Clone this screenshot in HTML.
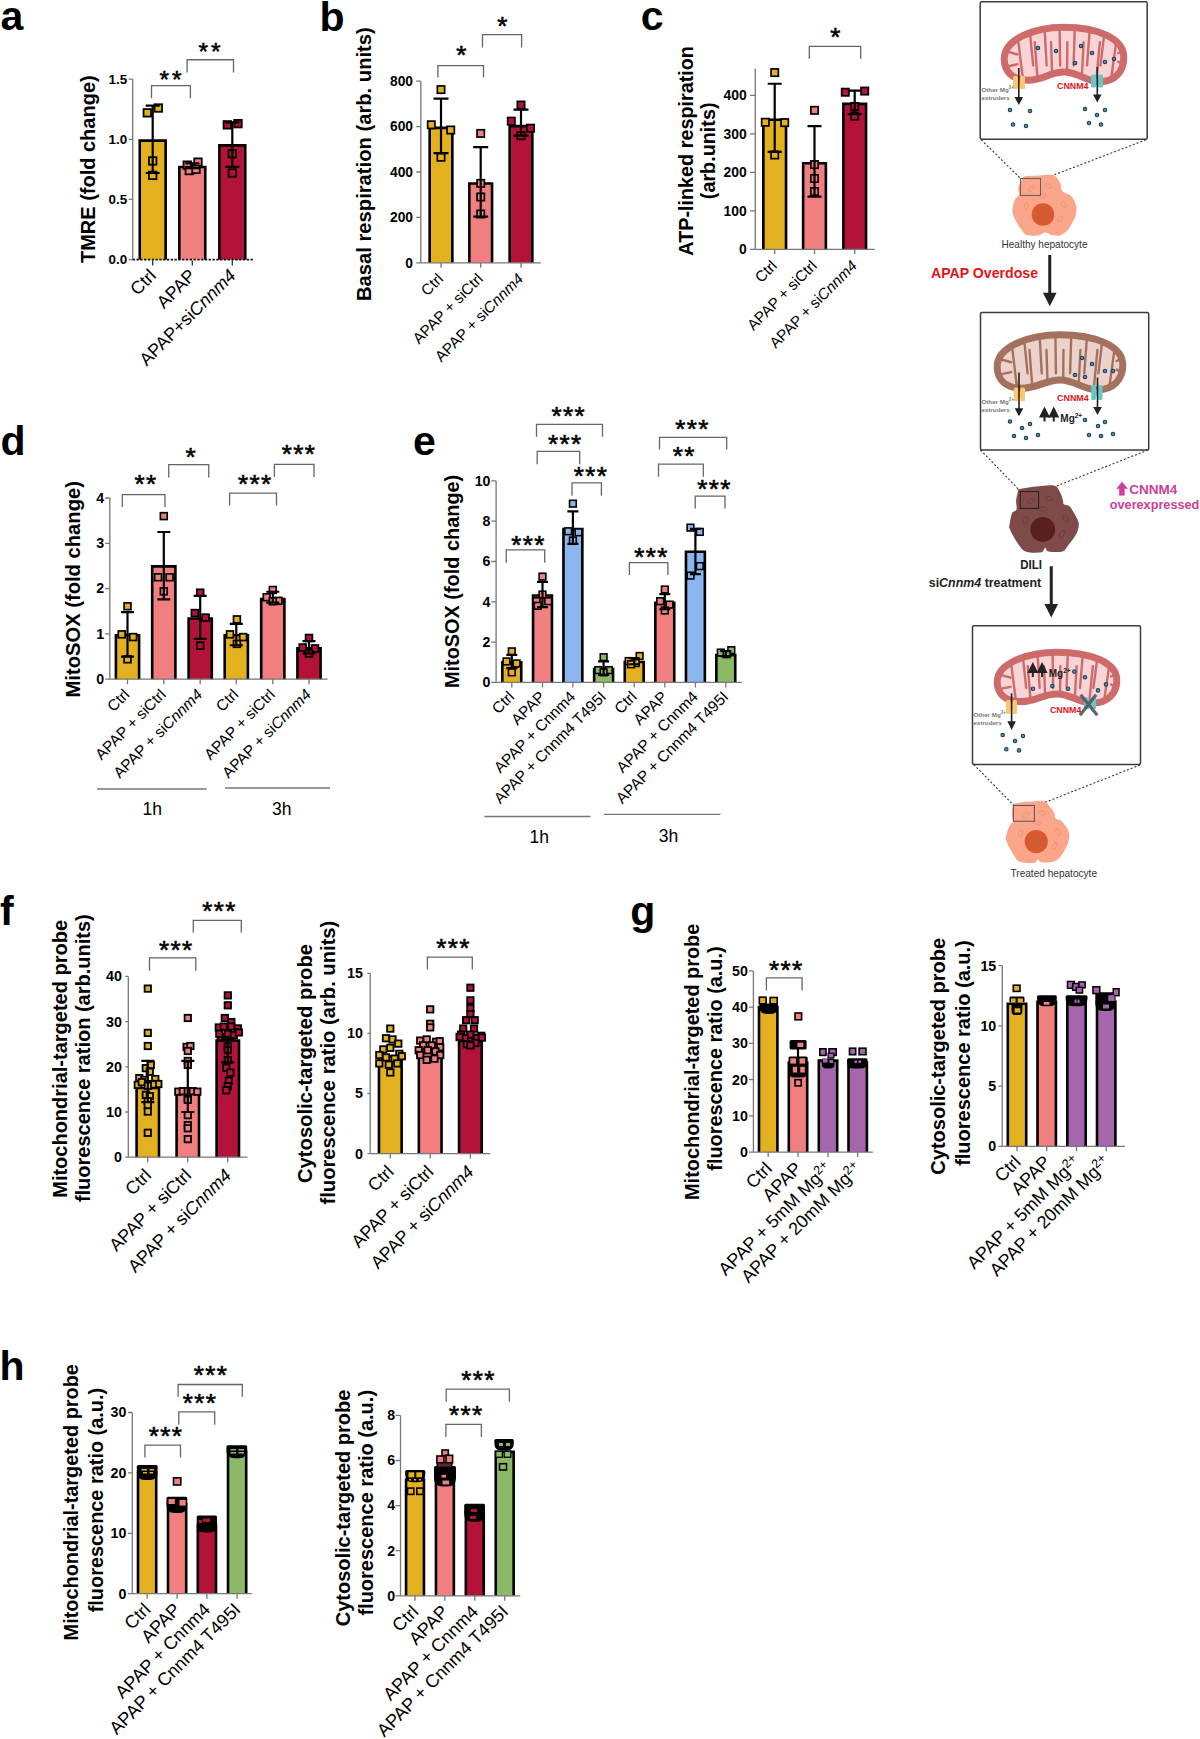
<!DOCTYPE html>
<html><head><meta charset="utf-8"><style>
html,body{margin:0;padding:0;background:#fff;}
svg{display:block;}
</style></head><body>
<svg width="1200" height="1739" viewBox="0 0 1200 1739" style="font-family:'Liberation Sans',sans-serif">
<rect x="139.75" y="140.6" width="25.9" height="119" fill="#E3B01F"/>
<path d="M139.75 259.6V140.6H165.65V259.6" fill="none" stroke="#000" stroke-width="2.6" stroke-linejoin="miter"/>
<rect x="179.35" y="167.07" width="25.9" height="92.53" fill="#F27F80"/>
<path d="M179.35 259.6V167.07H205.25V259.6" fill="none" stroke="#000" stroke-width="2.6" stroke-linejoin="miter"/>
<rect x="219.35" y="145.41" width="25.9" height="114.19" fill="#B31338"/>
<path d="M219.35 259.6V145.41H245.25V259.6" fill="none" stroke="#000" stroke-width="2.6" stroke-linejoin="miter"/>
<rect x="143.55" y="109.08" width="7.5" height="7.5" fill="#E3B01F" stroke="#000" stroke-width="1.8"/>
<rect x="154.55" y="104.27" width="7.5" height="7.5" fill="#E3B01F" stroke="#000" stroke-width="1.8"/>
<rect x="148.95" y="157.2" width="7.5" height="7.5" fill="#E3B01F" stroke="#000" stroke-width="1.8"/>
<rect x="148.95" y="171.64" width="7.5" height="7.5" fill="#E3B01F" stroke="#000" stroke-width="1.8"/>
<rect x="183.55" y="161.41" width="7.5" height="7.5" fill="#F27F80" stroke="#000" stroke-width="1.8"/>
<rect x="194.25" y="158.41" width="7.5" height="7.5" fill="#F27F80" stroke="#000" stroke-width="1.8"/>
<rect x="185.55" y="166.83" width="7.5" height="7.5" fill="#F27F80" stroke="#000" stroke-width="1.8"/>
<rect x="192.25" y="165.63" width="7.5" height="7.5" fill="#F27F80" stroke="#000" stroke-width="1.8"/>
<rect x="223.55" y="121.11" width="7.5" height="7.5" fill="#B31338" stroke="#000" stroke-width="1.8"/>
<rect x="234.25" y="119.91" width="7.5" height="7.5" fill="#B31338" stroke="#000" stroke-width="1.8"/>
<rect x="228.55" y="149.99" width="7.5" height="7.5" fill="#B31338" stroke="#000" stroke-width="1.8"/>
<rect x="228.55" y="169.23" width="7.5" height="7.5" fill="#B31338" stroke="#000" stroke-width="1.8"/>
<path d="M152.7 105.62V172.98M145.7 105.62H159.7M145.7 172.98H159.7" stroke="#000" stroke-width="2.2" fill="none"/>
<path d="M192.3 163.36V168.17M185.3 163.36H199.3M185.3 168.17H199.3" stroke="#000" stroke-width="2.2" fill="none"/>
<path d="M232.3 122.46V166.97M225.3 122.46H239.3M225.3 166.97H239.3" stroke="#000" stroke-width="2.2" fill="none"/>
<path d="M132.7 79.15V259.6M128.7 259.6H132.7M128.7 199.45H132.7M128.7 139.3H132.7M128.7 79.15H132.7" stroke="#777" stroke-width="1.3" fill="none"/>
<path d="M132.7 259.6H253" stroke="#111" stroke-width="1.6" stroke-dasharray="2.3 1.5" fill="none"/>
<path d="M152.7 260.4v5M192.3 260.4v5M232.3 260.4v5" stroke="#222" stroke-width="1.2"/>
<text x="127.1" y="264.21" font-size="13.4" font-weight="bold" text-anchor="end">0.0</text>
<text x="127.1" y="204.06" font-size="13.4" font-weight="bold" text-anchor="end">0.5</text>
<text x="127.1" y="143.91" font-size="13.4" font-weight="bold" text-anchor="end">1.0</text>
<text x="127.1" y="83.76" font-size="13.4" font-weight="bold" text-anchor="end">1.5</text>
<path d="M151.5 98.3V85.7H190.4V98.3" stroke="#666" stroke-width="1.3" fill="none"/>
<text x="159.62" y="87.56" font-size="24.5" stroke="#000" stroke-width="0.6" stroke-linejoin="round" letter-spacing="2.9">**</text>
<path d="M187.1 72.5V59.75H233.5V72.5" stroke="#666" stroke-width="1.3" fill="none"/>
<text x="198.52" y="60.26" font-size="24.5" stroke="#000" stroke-width="0.6" stroke-linejoin="round" letter-spacing="2.9">**</text>
<text x="157.2" y="276.6" font-size="17.9" text-anchor="end" transform="rotate(-45 157.2 276.6)">Ctrl</text>
<text x="196.8" y="276.6" font-size="17.9" text-anchor="end" transform="rotate(-45 196.8 276.6)">APAP</text>
<text x="236.8" y="276.6" font-size="17.9" text-anchor="end" transform="rotate(-45 236.8 276.6)">APAP+si<tspan font-style="italic">Cnnm4</tspan></text>
<text x="95" y="169.2" font-size="20" font-weight="bold" text-anchor="middle" transform="rotate(-90 95 169.2)">TMRE (fold change)</text>
<rect x="429.65" y="127.9" width="22.7" height="134.9" fill="#E3B01F"/>
<path d="M429.65 262.8V127.9H452.35V262.8" fill="none" stroke="#000" stroke-width="2.6" stroke-linejoin="miter"/>
<rect x="469.35" y="183.52" width="22.7" height="79.28" fill="#F27F80"/>
<path d="M469.35 262.8V183.52H492.05V262.8" fill="none" stroke="#000" stroke-width="2.6" stroke-linejoin="miter"/>
<rect x="509.65" y="126.08" width="22.7" height="136.72" fill="#B31338"/>
<path d="M509.65 262.8V126.08H532.35V262.8" fill="none" stroke="#000" stroke-width="2.6" stroke-linejoin="miter"/>
<rect x="437.35" y="85.95" width="7.3" height="7.3" fill="#E3B01F" stroke="#000" stroke-width="1.7"/>
<rect x="427.65" y="121.13" width="7.3" height="7.3" fill="#E3B01F" stroke="#000" stroke-width="1.7"/>
<rect x="447.05" y="126.36" width="7.3" height="7.3" fill="#E3B01F" stroke="#000" stroke-width="1.7"/>
<rect x="437.35" y="153.59" width="7.3" height="7.3" fill="#E3B01F" stroke="#000" stroke-width="1.7"/>
<rect x="477.05" y="129.76" width="7.3" height="7.3" fill="#F27F80" stroke="#000" stroke-width="1.7"/>
<rect x="477.05" y="179.7" width="7.3" height="7.3" fill="#F27F80" stroke="#000" stroke-width="1.7"/>
<rect x="477.05" y="193.32" width="7.3" height="7.3" fill="#F27F80" stroke="#000" stroke-width="1.7"/>
<rect x="477.05" y="210.34" width="7.3" height="7.3" fill="#F27F80" stroke="#000" stroke-width="1.7"/>
<rect x="517.35" y="101.39" width="7.3" height="7.3" fill="#B31338" stroke="#000" stroke-width="1.7"/>
<rect x="507.65" y="117.5" width="7.3" height="7.3" fill="#B31338" stroke="#000" stroke-width="1.7"/>
<rect x="526.85" y="124.54" width="7.3" height="7.3" fill="#B31338" stroke="#000" stroke-width="1.7"/>
<rect x="517.35" y="132.03" width="7.3" height="7.3" fill="#B31338" stroke="#000" stroke-width="1.7"/>
<path d="M441 98.68V153.16M433.5 98.68H448.5M433.5 153.16H448.5" stroke="#000" stroke-width="2.2" fill="none"/>
<path d="M480.7 147.03V216.72M473.2 147.03H488.2M473.2 216.72H488.2" stroke="#000" stroke-width="2.2" fill="none"/>
<path d="M521 109.58V135.68M513.5 109.58H528.5M513.5 135.68H528.5" stroke="#000" stroke-width="2.2" fill="none"/>
<path d="M420.8 81.2V262.8M416.3 262.8H420.8M416.3 217.4H420.8M416.3 172H420.8M416.3 126.6H420.8M416.3 81.2H420.8" stroke="#777" stroke-width="1.3" fill="none"/>
<path d="M420.8 262.8H540.8M441 262.8v5M480.7 262.8v5M521 262.8v5" stroke="#777" stroke-width="1.3" fill="none"/>
<text x="413" y="267.55" font-size="13.8" font-weight="bold" text-anchor="end">0</text>
<text x="413" y="222.15" font-size="13.8" font-weight="bold" text-anchor="end">200</text>
<text x="413" y="176.75" font-size="13.8" font-weight="bold" text-anchor="end">400</text>
<text x="413" y="131.35" font-size="13.8" font-weight="bold" text-anchor="end">600</text>
<text x="413" y="85.95" font-size="13.8" font-weight="bold" text-anchor="end">800</text>
<path d="M437.9 77.6V65.6H483.5V77.6" stroke="#666" stroke-width="1.3" fill="none"/>
<text x="456.19" y="64.46" font-size="26" stroke="#000" stroke-width="0.6" stroke-linejoin="round" letter-spacing="1.4">*</text>
<path d="M482.5 47.6V34.7H521.6V47.6" stroke="#666" stroke-width="1.3" fill="none"/>
<text x="497.14" y="35.46" font-size="26" stroke="#000" stroke-width="0.6" stroke-linejoin="round" letter-spacing="1.4">*</text>
<text x="444.2" y="279.8" font-size="15.3" text-anchor="end" transform="rotate(-45 444.2 279.8)">Ctrl</text>
<text x="483.9" y="279.8" font-size="15.3" text-anchor="end" transform="rotate(-45 483.9 279.8)">APAP + siCtrl</text>
<text x="524.2" y="279.8" font-size="15.3" text-anchor="end" transform="rotate(-45 524.2 279.8)">APAP + si<tspan font-style="italic">Cnnm4</tspan></text>
<text x="371.2" y="164.1" font-size="20.2" font-weight="bold" text-anchor="middle" transform="rotate(-90 371.2 164.1)">Basal respiration (arb. units)</text>
<rect x="763.35" y="119.7" width="22.7" height="129.6" fill="#E3B01F"/>
<path d="M763.35 249.3V119.7H786.05V249.3" fill="none" stroke="#000" stroke-width="2.6" stroke-linejoin="miter"/>
<rect x="803.15" y="163.21" width="22.7" height="86.09" fill="#F27F80"/>
<path d="M803.15 249.3V163.21H825.85V249.3" fill="none" stroke="#000" stroke-width="2.6" stroke-linejoin="miter"/>
<rect x="843.35" y="103.92" width="22.7" height="145.38" fill="#B31338"/>
<path d="M843.35 249.3V103.92H866.05V249.3" fill="none" stroke="#000" stroke-width="2.6" stroke-linejoin="miter"/>
<rect x="771.05" y="68.94" width="7.3" height="7.3" fill="#E3B01F" stroke="#000" stroke-width="1.7"/>
<rect x="761.65" y="118.6" width="7.3" height="7.3" fill="#E3B01F" stroke="#000" stroke-width="1.7"/>
<rect x="781.05" y="118.98" width="7.3" height="7.3" fill="#E3B01F" stroke="#000" stroke-width="1.7"/>
<rect x="771.05" y="151.33" width="7.3" height="7.3" fill="#E3B01F" stroke="#000" stroke-width="1.7"/>
<rect x="810.85" y="106.66" width="7.3" height="7.3" fill="#F27F80" stroke="#000" stroke-width="1.7"/>
<rect x="810.85" y="160.95" width="7.3" height="7.3" fill="#F27F80" stroke="#000" stroke-width="1.7"/>
<rect x="810.85" y="174.81" width="7.3" height="7.3" fill="#F27F80" stroke="#000" stroke-width="1.7"/>
<rect x="810.85" y="187.9" width="7.3" height="7.3" fill="#F27F80" stroke="#000" stroke-width="1.7"/>
<rect x="841.65" y="88.57" width="7.3" height="7.3" fill="#B31338" stroke="#000" stroke-width="1.7"/>
<rect x="861.05" y="87.41" width="7.3" height="7.3" fill="#B31338" stroke="#000" stroke-width="1.7"/>
<rect x="851.05" y="102.81" width="7.3" height="7.3" fill="#B31338" stroke="#000" stroke-width="1.7"/>
<rect x="851.05" y="112.44" width="7.3" height="7.3" fill="#B31338" stroke="#000" stroke-width="1.7"/>
<path d="M774.7 83.75V151.9M767.7 83.75H781.7M767.7 151.9H781.7" stroke="#000" stroke-width="2.2" fill="none"/>
<path d="M814.5 126.1V196.56M807.5 126.1H821.5M807.5 196.56H821.5" stroke="#000" stroke-width="2.2" fill="none"/>
<path d="M854.7 90.68V114.17M847.7 90.68H861.7M847.7 114.17H861.7" stroke="#000" stroke-width="2.2" fill="none"/>
<path d="M755.3 68.7V249.3M750 249.3H755.3M750 210.8H755.3M750 172.3H755.3M750 133.8H755.3M750 95.3H755.3" stroke="#777" stroke-width="1.3" fill="none"/>
<path d="M755.3 249.3H874.7M774.7 249.3v5M814.5 249.3v5M854.7 249.3v5" stroke="#777" stroke-width="1.3" fill="none"/>
<text x="746.7" y="254.08" font-size="13.9" font-weight="bold" text-anchor="end">0</text>
<text x="746.7" y="215.58" font-size="13.9" font-weight="bold" text-anchor="end">100</text>
<text x="746.7" y="177.08" font-size="13.9" font-weight="bold" text-anchor="end">200</text>
<text x="746.7" y="138.58" font-size="13.9" font-weight="bold" text-anchor="end">300</text>
<text x="746.7" y="100.08" font-size="13.9" font-weight="bold" text-anchor="end">400</text>
<path d="M809.3 58.7V46.4H860.7V58.7" stroke="#666" stroke-width="1.3" fill="none"/>
<text x="830.24" y="46.46" font-size="26" stroke="#000" stroke-width="0.6" stroke-linejoin="round" letter-spacing="1.4">*</text>
<text x="778" y="266.8" font-size="15.2" text-anchor="end" transform="rotate(-45 778 266.8)">Ctrl</text>
<text x="817.8" y="266.8" font-size="15.2" text-anchor="end" transform="rotate(-45 817.8 266.8)">APAP + siCtrl</text>
<text x="858" y="266.8" font-size="15.2" text-anchor="end" transform="rotate(-45 858 266.8)">APAP + si<tspan font-style="italic">Cnnm4</tspan></text>
<text x="692.6" y="150.85" font-size="19.8" font-weight="bold" text-anchor="middle" transform="rotate(-90 692.6 150.85)">ATP-linked respiration</text>
<text x="715" y="150.85" font-size="19.8" font-weight="bold" text-anchor="middle" transform="rotate(-90 715 150.85)">(arb.units)</text>
<rect x="115.9" y="635.2" width="23.2" height="44" fill="#E3B01F"/>
<path d="M115.9 679.2V635.2H139.1V679.2" fill="none" stroke="#000" stroke-width="2.6" stroke-linejoin="miter"/>
<rect x="152.2" y="566.34" width="23.2" height="112.86" fill="#F27F80"/>
<path d="M152.2 679.2V566.34H175.4V679.2" fill="none" stroke="#000" stroke-width="2.6" stroke-linejoin="miter"/>
<rect x="188.6" y="618.44" width="23.2" height="60.76" fill="#B31338"/>
<path d="M188.6 679.2V618.44H211.8V679.2" fill="none" stroke="#000" stroke-width="2.6" stroke-linejoin="miter"/>
<rect x="224.7" y="635.2" width="23.2" height="44" fill="#E3B01F"/>
<path d="M224.7 679.2V635.2H247.9V679.2" fill="none" stroke="#000" stroke-width="2.6" stroke-linejoin="miter"/>
<rect x="261.2" y="598.96" width="23.2" height="80.24" fill="#F27F80"/>
<path d="M261.2 679.2V598.96H284.4V679.2" fill="none" stroke="#000" stroke-width="2.6" stroke-linejoin="miter"/>
<rect x="297.4" y="648.34" width="23.2" height="30.86" fill="#B31338"/>
<path d="M297.4 679.2V648.34H320.6V679.2" fill="none" stroke="#000" stroke-width="2.6" stroke-linejoin="miter"/>
<rect x="124.1" y="602.87" width="6.8" height="6.8" fill="#E3B01F" stroke="#000" stroke-width="1.7"/>
<rect x="118.3" y="630.95" width="6.8" height="6.8" fill="#E3B01F" stroke="#000" stroke-width="1.7"/>
<rect x="129.7" y="633.67" width="6.8" height="6.8" fill="#E3B01F" stroke="#000" stroke-width="1.7"/>
<rect x="124.1" y="655.87" width="6.8" height="6.8" fill="#E3B01F" stroke="#000" stroke-width="1.7"/>
<rect x="160.4" y="512.72" width="6.8" height="6.8" fill="#F27F80" stroke="#000" stroke-width="1.7"/>
<rect x="154.7" y="573.88" width="6.8" height="6.8" fill="#F27F80" stroke="#000" stroke-width="1.7"/>
<rect x="166.2" y="573.88" width="6.8" height="6.8" fill="#F27F80" stroke="#000" stroke-width="1.7"/>
<rect x="160.4" y="587.92" width="6.8" height="6.8" fill="#F27F80" stroke="#000" stroke-width="1.7"/>
<rect x="196.8" y="589.28" width="6.8" height="6.8" fill="#B31338" stroke="#000" stroke-width="1.7"/>
<rect x="191.4" y="609.66" width="6.8" height="6.8" fill="#B31338" stroke="#000" stroke-width="1.7"/>
<rect x="202.2" y="614.19" width="6.8" height="6.8" fill="#B31338" stroke="#000" stroke-width="1.7"/>
<rect x="196.8" y="642.28" width="6.8" height="6.8" fill="#B31338" stroke="#000" stroke-width="1.7"/>
<rect x="233.5" y="616" width="6.8" height="6.8" fill="#E3B01F" stroke="#000" stroke-width="1.7"/>
<rect x="226.6" y="630.95" width="6.8" height="6.8" fill="#E3B01F" stroke="#000" stroke-width="1.7"/>
<rect x="239.7" y="633.67" width="6.8" height="6.8" fill="#E3B01F" stroke="#000" stroke-width="1.7"/>
<rect x="233.5" y="640.47" width="6.8" height="6.8" fill="#E3B01F" stroke="#000" stroke-width="1.7"/>
<rect x="269.4" y="586.56" width="6.8" height="6.8" fill="#F27F80" stroke="#000" stroke-width="1.7"/>
<rect x="263.3" y="593.81" width="6.8" height="6.8" fill="#F27F80" stroke="#000" stroke-width="1.7"/>
<rect x="275.1" y="597.43" width="6.8" height="6.8" fill="#F27F80" stroke="#000" stroke-width="1.7"/>
<rect x="269.4" y="597.88" width="6.8" height="6.8" fill="#F27F80" stroke="#000" stroke-width="1.7"/>
<rect x="305.6" y="634.58" width="6.8" height="6.8" fill="#B31338" stroke="#000" stroke-width="1.7"/>
<rect x="299.3" y="644.09" width="6.8" height="6.8" fill="#B31338" stroke="#000" stroke-width="1.7"/>
<rect x="311.6" y="645" width="6.8" height="6.8" fill="#B31338" stroke="#000" stroke-width="1.7"/>
<rect x="305.6" y="649.98" width="6.8" height="6.8" fill="#B31338" stroke="#000" stroke-width="1.7"/>
<path d="M127.5 612.16V656.55M121 612.16H134M121 656.55H134" stroke="#000" stroke-width="2.2" fill="none"/>
<path d="M163.8 531.98V599.47M157.3 531.98H170.3M157.3 599.47H170.3" stroke="#000" stroke-width="2.2" fill="none"/>
<path d="M200.2 595.85V638.88M193.7 595.85H206.7M193.7 638.88H206.7" stroke="#000" stroke-width="2.2" fill="none"/>
<path d="M236.3 623.93V645.23M229.8 623.93H242.8M229.8 645.23H242.8" stroke="#000" stroke-width="2.2" fill="none"/>
<path d="M272.8 591.77V602.64M266.3 591.77H279.3M266.3 602.64H279.3" stroke="#000" stroke-width="2.2" fill="none"/>
<path d="M309 641.15V653.38M302.5 641.15H315.5M302.5 653.38H315.5" stroke="#000" stroke-width="2.2" fill="none"/>
<path d="M109.8 498V679.2M105.2 679.2H109.8M105.2 633.9H109.8M105.2 588.6H109.8M105.2 543.3H109.8M105.2 498H109.8" stroke="#777" stroke-width="1.3" fill="none"/>
<path d="M109.8 679.2H327.5M127.5 679.2v5M163.8 679.2v5M200.2 679.2v5M236.3 679.2v5M272.8 679.2v5M309 679.2v5" stroke="#777" stroke-width="1.3" fill="none"/>
<text x="104.2" y="684.08" font-size="14.2" font-weight="bold" text-anchor="end">0</text>
<text x="104.2" y="638.78" font-size="14.2" font-weight="bold" text-anchor="end">1</text>
<text x="104.2" y="593.48" font-size="14.2" font-weight="bold" text-anchor="end">2</text>
<text x="104.2" y="548.18" font-size="14.2" font-weight="bold" text-anchor="end">3</text>
<text x="104.2" y="502.88" font-size="14.2" font-weight="bold" text-anchor="end">4</text>
<path d="M122.3 507V494.6H165V507" stroke="#666" stroke-width="1.3" fill="none"/>
<text x="134.39" y="493.26" font-size="26" stroke="#000" stroke-width="0.6" stroke-linejoin="round" letter-spacing="1.4">**</text>
<path d="M168.75 477.5V464.6H208.75V477.5" stroke="#666" stroke-width="1.3" fill="none"/>
<text x="185.54" y="466.16" font-size="26" stroke="#000" stroke-width="0.6" stroke-linejoin="round" letter-spacing="1.4">*</text>
<path d="M229.6 505.6V493.1H276.5V505.6" stroke="#666" stroke-width="1.3" fill="none"/>
<text x="238.03" y="493.26" font-size="26" stroke="#000" stroke-width="0.6" stroke-linejoin="round" letter-spacing="1.4">***</text>
<path d="M274.4 477V464.4H314V477" stroke="#666" stroke-width="1.3" fill="none"/>
<text x="281.73" y="463.46" font-size="26" stroke="#000" stroke-width="0.6" stroke-linejoin="round" letter-spacing="1.4">***</text>
<text x="130.5" y="695.5" font-size="15.4" text-anchor="end" transform="rotate(-45 130.5 695.5)">Ctrl</text>
<text x="166.8" y="695.5" font-size="15.4" text-anchor="end" transform="rotate(-45 166.8 695.5)">APAP + siCtrl</text>
<text x="203.2" y="695.5" font-size="15.4" text-anchor="end" transform="rotate(-45 203.2 695.5)">APAP + si<tspan font-style="italic">Cnnm4</tspan></text>
<text x="239.3" y="695.5" font-size="15.4" text-anchor="end" transform="rotate(-45 239.3 695.5)">Ctrl</text>
<text x="275.8" y="695.5" font-size="15.4" text-anchor="end" transform="rotate(-45 275.8 695.5)">APAP + siCtrl</text>
<text x="312" y="695.5" font-size="15.4" text-anchor="end" transform="rotate(-45 312 695.5)">APAP + si<tspan font-style="italic">Cnnm4</tspan></text>
<text x="80.5" y="589.3" font-size="20.2" font-weight="bold" text-anchor="middle" transform="rotate(-90 80.5 589.3)">MitoSOX (fold change)</text>
<rect x="502.35" y="662.34" width="18.9" height="20.06" fill="#E3B01F"/>
<path d="M502.35 682.4V662.34H521.25V682.4" fill="none" stroke="#000" stroke-width="2.6" stroke-linejoin="miter"/>
<rect x="533.05" y="595.44" width="18.9" height="86.96" fill="#F27F80"/>
<path d="M533.05 682.4V595.44H551.95V682.4" fill="none" stroke="#000" stroke-width="2.6" stroke-linejoin="miter"/>
<rect x="563.45" y="528.95" width="18.9" height="153.45" fill="#8AB5EF"/>
<path d="M563.45 682.4V528.95H582.35V682.4" fill="none" stroke="#000" stroke-width="2.6" stroke-linejoin="miter"/>
<rect x="594.15" y="668.99" width="18.9" height="13.41" fill="#8BB965"/>
<path d="M594.15 682.4V668.99H613.05V682.4" fill="none" stroke="#000" stroke-width="2.6" stroke-linejoin="miter"/>
<rect x="624.75" y="661.94" width="18.9" height="20.46" fill="#E3B01F"/>
<path d="M624.75 682.4V661.94H643.65V682.4" fill="none" stroke="#000" stroke-width="2.6" stroke-linejoin="miter"/>
<rect x="655.35" y="602.9" width="18.9" height="79.5" fill="#F27F80"/>
<path d="M655.35 682.4V602.9H674.25V682.4" fill="none" stroke="#000" stroke-width="2.6" stroke-linejoin="miter"/>
<rect x="685.95" y="551.72" width="18.9" height="130.68" fill="#8AB5EF"/>
<path d="M685.95 682.4V551.72H704.85V682.4" fill="none" stroke="#000" stroke-width="2.6" stroke-linejoin="miter"/>
<rect x="716.35" y="655.09" width="18.9" height="27.31" fill="#8BB965"/>
<path d="M716.35 682.4V655.09H735.25V682.4" fill="none" stroke="#000" stroke-width="2.6" stroke-linejoin="miter"/>
<rect x="508.45" y="648.02" width="6.7" height="6.7" fill="#E3B01F" stroke="#000" stroke-width="1.6"/>
<rect x="503.15" y="658.09" width="6.7" height="6.7" fill="#E3B01F" stroke="#000" stroke-width="1.6"/>
<rect x="513.25" y="660.11" width="6.7" height="6.7" fill="#E3B01F" stroke="#000" stroke-width="1.6"/>
<rect x="508.45" y="668.97" width="6.7" height="6.7" fill="#E3B01F" stroke="#000" stroke-width="1.6"/>
<rect x="539.15" y="573.26" width="6.7" height="6.7" fill="#F27F80" stroke="#000" stroke-width="1.6"/>
<rect x="539.15" y="591.2" width="6.7" height="6.7" fill="#F27F80" stroke="#000" stroke-width="1.6"/>
<rect x="533.15" y="597.85" width="6.7" height="6.7" fill="#F27F80" stroke="#000" stroke-width="1.6"/>
<rect x="544.85" y="597.85" width="6.7" height="6.7" fill="#F27F80" stroke="#000" stroke-width="1.6"/>
<rect x="534.35" y="602.48" width="6.7" height="6.7" fill="#F27F80" stroke="#000" stroke-width="1.6"/>
<rect x="569.55" y="500.32" width="6.7" height="6.7" fill="#8AB5EF" stroke="#000" stroke-width="1.6"/>
<rect x="564.85" y="527.92" width="6.7" height="6.7" fill="#8AB5EF" stroke="#000" stroke-width="1.6"/>
<rect x="575.15" y="528.93" width="6.7" height="6.7" fill="#8AB5EF" stroke="#000" stroke-width="1.6"/>
<rect x="569.55" y="537.19" width="6.7" height="6.7" fill="#8AB5EF" stroke="#000" stroke-width="1.6"/>
<rect x="600.25" y="653.86" width="6.7" height="6.7" fill="#8BB965" stroke="#000" stroke-width="1.6"/>
<rect x="594.95" y="666.76" width="6.7" height="6.7" fill="#8BB965" stroke="#000" stroke-width="1.6"/>
<rect x="605.45" y="666.76" width="6.7" height="6.7" fill="#8BB965" stroke="#000" stroke-width="1.6"/>
<rect x="600.25" y="668.97" width="6.7" height="6.7" fill="#8BB965" stroke="#000" stroke-width="1.6"/>
<rect x="636.25" y="652.65" width="6.7" height="6.7" fill="#E3B01F" stroke="#000" stroke-width="1.6"/>
<rect x="625.35" y="657.69" width="6.7" height="6.7" fill="#E3B01F" stroke="#000" stroke-width="1.6"/>
<rect x="632.35" y="659.71" width="6.7" height="6.7" fill="#E3B01F" stroke="#000" stroke-width="1.6"/>
<rect x="627.65" y="660.91" width="6.7" height="6.7" fill="#E3B01F" stroke="#000" stroke-width="1.6"/>
<rect x="661.45" y="586.16" width="6.7" height="6.7" fill="#F27F80" stroke="#000" stroke-width="1.6"/>
<rect x="656.85" y="597.85" width="6.7" height="6.7" fill="#F27F80" stroke="#000" stroke-width="1.6"/>
<rect x="666.15" y="601.27" width="6.7" height="6.7" fill="#F27F80" stroke="#000" stroke-width="1.6"/>
<rect x="661.45" y="607.11" width="6.7" height="6.7" fill="#F27F80" stroke="#000" stroke-width="1.6"/>
<rect x="687.15" y="524.3" width="6.7" height="6.7" fill="#8AB5EF" stroke="#000" stroke-width="1.6"/>
<rect x="696.45" y="528.53" width="6.7" height="6.7" fill="#8AB5EF" stroke="#000" stroke-width="1.6"/>
<rect x="696.45" y="562.78" width="6.7" height="6.7" fill="#8AB5EF" stroke="#000" stroke-width="1.6"/>
<rect x="687.15" y="572.25" width="6.7" height="6.7" fill="#8AB5EF" stroke="#000" stroke-width="1.6"/>
<rect x="727.95" y="646.81" width="6.7" height="6.7" fill="#8BB965" stroke="#000" stroke-width="1.6"/>
<rect x="717.45" y="649.23" width="6.7" height="6.7" fill="#8BB965" stroke="#000" stroke-width="1.6"/>
<rect x="723.35" y="650.84" width="6.7" height="6.7" fill="#8BB965" stroke="#000" stroke-width="1.6"/>
<path d="M511.8 654.79V668.09M506.3 654.79H517.3M506.3 668.09H517.3" stroke="#000" stroke-width="2.2" fill="none"/>
<path d="M542.5 581.85V607.04M537 581.85H548M537 607.04H548" stroke="#000" stroke-width="2.2" fill="none"/>
<path d="M572.9 511.33V543.97M567.4 511.33H578.4M567.4 543.97H578.4" stroke="#000" stroke-width="2.2" fill="none"/>
<path d="M603.6 661.44V674.94M598.1 661.44H609.1M598.1 674.94H609.1" stroke="#000" stroke-width="2.2" fill="none"/>
<path d="M634.2 658.22V664.26M628.7 658.22H639.7M628.7 664.26H639.7" stroke="#000" stroke-width="2.2" fill="none"/>
<path d="M664.8 594.14V609.26M659.3 594.14H670.3M659.3 609.26H670.3" stroke="#000" stroke-width="2.2" fill="none"/>
<path d="M695.4 528.86V574.19M689.9 528.86H700.9M689.9 574.19H700.9" stroke="#000" stroke-width="2.2" fill="none"/>
<path d="M725.8 651.17V656.2M720.3 651.17H731.3M720.3 656.2H731.3" stroke="#000" stroke-width="2.2" fill="none"/>
<path d="M496.1 480.9V682.4M491.3 682.4H496.1M491.3 642.1H496.1M491.3 601.8H496.1M491.3 561.5H496.1M491.3 521.2H496.1M491.3 480.9H496.1" stroke="#777" stroke-width="1.3" fill="none"/>
<path d="M496.1 682.4H741.8M511.8 682.4v5M542.5 682.4v5M572.9 682.4v5M603.6 682.4v5M634.2 682.4v5M664.8 682.4v5M695.4 682.4v5M725.8 682.4v5" stroke="#777" stroke-width="1.3" fill="none"/>
<text x="490.5" y="687.28" font-size="14.2" font-weight="bold" text-anchor="end">0</text>
<text x="490.5" y="646.98" font-size="14.2" font-weight="bold" text-anchor="end">2</text>
<text x="490.5" y="606.68" font-size="14.2" font-weight="bold" text-anchor="end">4</text>
<text x="490.5" y="566.38" font-size="14.2" font-weight="bold" text-anchor="end">6</text>
<text x="490.5" y="526.08" font-size="14.2" font-weight="bold" text-anchor="end">8</text>
<text x="490.5" y="485.78" font-size="14.2" font-weight="bold" text-anchor="end">10</text>
<path d="M506.2 562.7V549.8H544.7V562.7" stroke="#666" stroke-width="1.3" fill="none"/>
<text x="511.33" y="553.66" font-size="26" stroke="#000" stroke-width="0.6" stroke-linejoin="round" letter-spacing="1.4">***</text>
<path d="M537.2 464.2V451.4H579.7V464.2" stroke="#666" stroke-width="1.3" fill="none"/>
<text x="547.93" y="452.56" font-size="26" stroke="#000" stroke-width="0.6" stroke-linejoin="round" letter-spacing="1.4">***</text>
<path d="M536.5 436.7V424.3H602.5V436.7" stroke="#666" stroke-width="1.3" fill="none"/>
<text x="551.43" y="425.26" font-size="26" stroke="#000" stroke-width="0.6" stroke-linejoin="round" letter-spacing="1.4">***</text>
<path d="M572 495.7V482.9H601.4V495.7" stroke="#666" stroke-width="1.3" fill="none"/>
<text x="573.63" y="484.76" font-size="26" stroke="#000" stroke-width="0.6" stroke-linejoin="round" letter-spacing="1.4">***</text>
<path d="M629.4 575V562.7H667.9V575" stroke="#666" stroke-width="1.3" fill="none"/>
<text x="634.23" y="566.46" font-size="26" stroke="#000" stroke-width="0.6" stroke-linejoin="round" letter-spacing="1.4">***</text>
<path d="M659.5 449.5V437.4H726.7V449.5" stroke="#666" stroke-width="1.3" fill="none"/>
<text x="675.13" y="438.16" font-size="26" stroke="#000" stroke-width="0.6" stroke-linejoin="round" letter-spacing="1.4">***</text>
<path d="M658.5 476.8V464.2H703.3V476.8" stroke="#666" stroke-width="1.3" fill="none"/>
<text x="672.69" y="464.96" font-size="26" stroke="#000" stroke-width="0.6" stroke-linejoin="round" letter-spacing="1.4">**</text>
<path d="M695.2 508.5V496.2H725V508.5" stroke="#666" stroke-width="1.3" fill="none"/>
<text x="697.23" y="497.66" font-size="26" stroke="#000" stroke-width="0.6" stroke-linejoin="round" letter-spacing="1.4">***</text>
<text x="515.3" y="697.7" font-size="15.5" text-anchor="end" transform="rotate(-45 515.3 697.7)">Ctrl</text>
<text x="546" y="697.7" font-size="15.5" text-anchor="end" transform="rotate(-45 546 697.7)">APAP</text>
<text x="576.4" y="697.7" font-size="15.5" text-anchor="end" transform="rotate(-45 576.4 697.7)">APAP + Cnnm4</text>
<text x="607.1" y="697.7" font-size="15.5" text-anchor="end" transform="rotate(-45 607.1 697.7)">APAP + Cnnm4 T495I</text>
<text x="637.7" y="697.7" font-size="15.5" text-anchor="end" transform="rotate(-45 637.7 697.7)">Ctrl</text>
<text x="668.3" y="697.7" font-size="15.5" text-anchor="end" transform="rotate(-45 668.3 697.7)">APAP</text>
<text x="698.9" y="697.7" font-size="15.5" text-anchor="end" transform="rotate(-45 698.9 697.7)">APAP + Cnnm4</text>
<text x="729.3" y="697.7" font-size="15.5" text-anchor="end" transform="rotate(-45 729.3 697.7)">APAP + Cnnm4 T495I</text>
<text x="458.8" y="581.4" font-size="19.9" font-weight="bold" text-anchor="middle" transform="rotate(-90 458.8 581.4)">MitoSOX (fold change)</text>
<rect x="136.6" y="1087.99" width="22.4" height="69.21" fill="#E3B01F"/>
<path d="M136.6 1157.2V1087.99H159V1157.2" fill="none" stroke="#000" stroke-width="2.6" stroke-linejoin="miter"/>
<rect x="176.6" y="1089.8" width="22.4" height="67.4" fill="#F27F80"/>
<path d="M176.6 1157.2V1089.8H199V1157.2" fill="none" stroke="#000" stroke-width="2.6" stroke-linejoin="miter"/>
<rect x="216.6" y="1040.53" width="22.4" height="116.67" fill="#B31338"/>
<path d="M216.6 1157.2V1040.53H239V1157.2" fill="none" stroke="#000" stroke-width="2.6" stroke-linejoin="miter"/>
<rect x="144.6" y="985.4" width="6.4" height="6.4" fill="#E3B01F" stroke="#000" stroke-width="1.8"/>
<rect x="144.6" y="1029.7" width="6.4" height="6.4" fill="#E3B01F" stroke="#000" stroke-width="1.8"/>
<rect x="144.6" y="1042.81" width="6.4" height="6.4" fill="#E3B01F" stroke="#000" stroke-width="1.8"/>
<rect x="142.6" y="1064.96" width="6.4" height="6.4" fill="#E3B01F" stroke="#000" stroke-width="1.8"/>
<rect x="147.6" y="1061.79" width="6.4" height="6.4" fill="#E3B01F" stroke="#000" stroke-width="1.8"/>
<rect x="146.6" y="1068.57" width="6.4" height="6.4" fill="#E3B01F" stroke="#000" stroke-width="1.8"/>
<rect x="136.1" y="1074.9" width="6.4" height="6.4" fill="#E3B01F" stroke="#000" stroke-width="1.8"/>
<rect x="152.1" y="1075.8" width="6.4" height="6.4" fill="#E3B01F" stroke="#000" stroke-width="1.8"/>
<rect x="134.6" y="1081.68" width="6.4" height="6.4" fill="#E3B01F" stroke="#000" stroke-width="1.8"/>
<rect x="155.1" y="1080.78" width="6.4" height="6.4" fill="#E3B01F" stroke="#000" stroke-width="1.8"/>
<rect x="141.1" y="1076.71" width="6.4" height="6.4" fill="#E3B01F" stroke="#000" stroke-width="1.8"/>
<rect x="146.6" y="1080.78" width="6.4" height="6.4" fill="#E3B01F" stroke="#000" stroke-width="1.8"/>
<rect x="149.6" y="1081.23" width="6.4" height="6.4" fill="#E3B01F" stroke="#000" stroke-width="1.8"/>
<rect x="138.6" y="1078.97" width="6.4" height="6.4" fill="#E3B01F" stroke="#000" stroke-width="1.8"/>
<rect x="144.6" y="1082.58" width="6.4" height="6.4" fill="#E3B01F" stroke="#000" stroke-width="1.8"/>
<rect x="142.6" y="1091.62" width="6.4" height="6.4" fill="#E3B01F" stroke="#000" stroke-width="1.8"/>
<rect x="146.6" y="1092.98" width="6.4" height="6.4" fill="#E3B01F" stroke="#000" stroke-width="1.8"/>
<rect x="144.6" y="1097.95" width="6.4" height="6.4" fill="#E3B01F" stroke="#000" stroke-width="1.8"/>
<rect x="144.6" y="1102.02" width="6.4" height="6.4" fill="#E3B01F" stroke="#000" stroke-width="1.8"/>
<rect x="144.6" y="1108.35" width="6.4" height="6.4" fill="#E3B01F" stroke="#000" stroke-width="1.8"/>
<rect x="144.6" y="1129.59" width="6.4" height="6.4" fill="#E3B01F" stroke="#000" stroke-width="1.8"/>
<rect x="184.6" y="1014.78" width="6.4" height="6.4" fill="#F27F80" stroke="#000" stroke-width="1.8"/>
<rect x="183.4" y="1043.71" width="6.4" height="6.4" fill="#F27F80" stroke="#000" stroke-width="1.8"/>
<rect x="187.2" y="1042.81" width="6.4" height="6.4" fill="#F27F80" stroke="#000" stroke-width="1.8"/>
<rect x="184.6" y="1047.78" width="6.4" height="6.4" fill="#F27F80" stroke="#000" stroke-width="1.8"/>
<rect x="184.6" y="1057.72" width="6.4" height="6.4" fill="#F27F80" stroke="#000" stroke-width="1.8"/>
<rect x="184.6" y="1061.79" width="6.4" height="6.4" fill="#F27F80" stroke="#000" stroke-width="1.8"/>
<rect x="175.1" y="1088.46" width="6.4" height="6.4" fill="#F27F80" stroke="#000" stroke-width="1.8"/>
<rect x="179.6" y="1088.01" width="6.4" height="6.4" fill="#F27F80" stroke="#000" stroke-width="1.8"/>
<rect x="184.6" y="1088.01" width="6.4" height="6.4" fill="#F27F80" stroke="#000" stroke-width="1.8"/>
<rect x="189.6" y="1088.01" width="6.4" height="6.4" fill="#F27F80" stroke="#000" stroke-width="1.8"/>
<rect x="194.1" y="1088.46" width="6.4" height="6.4" fill="#F27F80" stroke="#000" stroke-width="1.8"/>
<rect x="184.6" y="1095.24" width="6.4" height="6.4" fill="#F27F80" stroke="#000" stroke-width="1.8"/>
<rect x="184.6" y="1096.6" width="6.4" height="6.4" fill="#F27F80" stroke="#000" stroke-width="1.8"/>
<rect x="184.6" y="1111.96" width="6.4" height="6.4" fill="#F27F80" stroke="#000" stroke-width="1.8"/>
<rect x="184.6" y="1121.91" width="6.4" height="6.4" fill="#F27F80" stroke="#000" stroke-width="1.8"/>
<rect x="184.6" y="1125.07" width="6.4" height="6.4" fill="#F27F80" stroke="#000" stroke-width="1.8"/>
<rect x="184.6" y="1135.92" width="6.4" height="6.4" fill="#F27F80" stroke="#000" stroke-width="1.8"/>
<rect x="224.6" y="992.18" width="6.4" height="6.4" fill="#B31338" stroke="#000" stroke-width="1.8"/>
<rect x="224.6" y="1002.13" width="6.4" height="6.4" fill="#B31338" stroke="#000" stroke-width="1.8"/>
<rect x="221.6" y="1014.78" width="6.4" height="6.4" fill="#B31338" stroke="#000" stroke-width="1.8"/>
<rect x="228.1" y="1018.85" width="6.4" height="6.4" fill="#B31338" stroke="#000" stroke-width="1.8"/>
<rect x="215.6" y="1024.28" width="6.4" height="6.4" fill="#B31338" stroke="#000" stroke-width="1.8"/>
<rect x="220.6" y="1023.37" width="6.4" height="6.4" fill="#B31338" stroke="#000" stroke-width="1.8"/>
<rect x="228.1" y="1023.37" width="6.4" height="6.4" fill="#B31338" stroke="#000" stroke-width="1.8"/>
<rect x="234.6" y="1025.18" width="6.4" height="6.4" fill="#B31338" stroke="#000" stroke-width="1.8"/>
<rect x="217.6" y="1033.77" width="6.4" height="6.4" fill="#B31338" stroke="#000" stroke-width="1.8"/>
<rect x="224.6" y="1030.6" width="6.4" height="6.4" fill="#B31338" stroke="#000" stroke-width="1.8"/>
<rect x="230.6" y="1031.96" width="6.4" height="6.4" fill="#B31338" stroke="#000" stroke-width="1.8"/>
<rect x="235.6" y="1029.25" width="6.4" height="6.4" fill="#B31338" stroke="#000" stroke-width="1.8"/>
<rect x="216.1" y="1030.6" width="6.4" height="6.4" fill="#B31338" stroke="#000" stroke-width="1.8"/>
<rect x="224.6" y="1043.26" width="6.4" height="6.4" fill="#B31338" stroke="#000" stroke-width="1.8"/>
<rect x="224.6" y="1046.88" width="6.4" height="6.4" fill="#B31338" stroke="#000" stroke-width="1.8"/>
<rect x="224.6" y="1056.82" width="6.4" height="6.4" fill="#B31338" stroke="#000" stroke-width="1.8"/>
<rect x="223.1" y="1064.5" width="6.4" height="6.4" fill="#B31338" stroke="#000" stroke-width="1.8"/>
<rect x="227.1" y="1069.48" width="6.4" height="6.4" fill="#B31338" stroke="#000" stroke-width="1.8"/>
<rect x="225.6" y="1077.61" width="6.4" height="6.4" fill="#B31338" stroke="#000" stroke-width="1.8"/>
<rect x="224.6" y="1083.04" width="6.4" height="6.4" fill="#B31338" stroke="#000" stroke-width="1.8"/>
<rect x="223.1" y="1087.1" width="6.4" height="6.4" fill="#B31338" stroke="#000" stroke-width="1.8"/>
<path d="M147.8 1060.92V1102.06M141.3 1060.92H154.3M141.3 1102.06H154.3" stroke="#000" stroke-width="2.2" fill="none"/>
<path d="M187.8 1060.92V1112M181.3 1060.92H194.3M181.3 1112H194.3" stroke="#000" stroke-width="2.2" fill="none"/>
<path d="M227.8 1038.78V1062.28M221.3 1038.78H234.3M221.3 1062.28H234.3" stroke="#000" stroke-width="2.2" fill="none"/>
<path d="M128.3 976.4V1157.2M125.3 1157.2H128.3M125.3 1112H128.3M125.3 1066.8H128.3M125.3 1021.6H128.3M125.3 976.4H128.3" stroke="#777" stroke-width="1.3" fill="none"/>
<path d="M128.3 1157.2H247.5M147.8 1157.2v5M187.8 1157.2v5M227.8 1157.2v5" stroke="#777" stroke-width="1.3" fill="none"/>
<text x="121.9" y="1162.12" font-size="14.3" font-weight="bold" text-anchor="end">0</text>
<text x="121.9" y="1116.92" font-size="14.3" font-weight="bold" text-anchor="end">10</text>
<text x="121.9" y="1071.72" font-size="14.3" font-weight="bold" text-anchor="end">20</text>
<text x="121.9" y="1026.52" font-size="14.3" font-weight="bold" text-anchor="end">30</text>
<text x="121.9" y="981.32" font-size="14.3" font-weight="bold" text-anchor="end">40</text>
<path d="M149.5 970.8V957.8H195.8V970.8" stroke="#666" stroke-width="1.3" fill="none"/>
<text x="158.93" y="959.26" font-size="26" stroke="#000" stroke-width="0.6" stroke-linejoin="round" letter-spacing="1.4">***</text>
<path d="M193.3 932.5V920.3H241.3V932.5" stroke="#666" stroke-width="1.3" fill="none"/>
<text x="202.13" y="920.16" font-size="26" stroke="#000" stroke-width="0.6" stroke-linejoin="round" letter-spacing="1.4">***</text>
<text x="152.3" y="1176.5" font-size="17.9" text-anchor="end" transform="rotate(-45 152.3 1176.5)">Ctrl</text>
<text x="192.3" y="1176.5" font-size="17.9" text-anchor="end" transform="rotate(-45 192.3 1176.5)">APAP + siCtrl</text>
<text x="232.3" y="1176.5" font-size="17.9" text-anchor="end" transform="rotate(-45 232.3 1176.5)">APAP + si<tspan font-style="italic">Cnnm4</tspan></text>
<text x="66.9" y="1058.9" font-size="20" font-weight="bold" text-anchor="middle" transform="rotate(-90 66.9 1058.9)">Mitochondrial-targeted probe</text>
<text x="90.2" y="1058.2" font-size="20" font-weight="bold" text-anchor="middle" transform="rotate(-90 90.2 1058.2)">fluorescence ration (arb.units)</text>
<rect x="378.95" y="1056.34" width="22.7" height="97.26" fill="#E3B01F"/>
<path d="M378.95 1153.6V1056.34H401.65V1153.6" fill="none" stroke="#000" stroke-width="2.6" stroke-linejoin="miter"/>
<rect x="418.85" y="1049.12" width="22.7" height="104.48" fill="#F27F80"/>
<path d="M418.85 1153.6V1049.12H441.55V1153.6" fill="none" stroke="#000" stroke-width="2.6" stroke-linejoin="miter"/>
<rect x="459.05" y="1034.7" width="22.7" height="118.9" fill="#B31338"/>
<path d="M459.05 1153.6V1034.7H481.75V1153.6" fill="none" stroke="#000" stroke-width="2.6" stroke-linejoin="miter"/>
<rect x="387.1" y="1025.39" width="6.4" height="6.4" fill="#E3B01F" stroke="#000" stroke-width="1.8"/>
<rect x="382.8" y="1035.01" width="6.4" height="6.4" fill="#E3B01F" stroke="#000" stroke-width="1.8"/>
<rect x="389.3" y="1036.21" width="6.4" height="6.4" fill="#E3B01F" stroke="#000" stroke-width="1.8"/>
<rect x="395.1" y="1040.42" width="6.4" height="6.4" fill="#E3B01F" stroke="#000" stroke-width="1.8"/>
<rect x="380.1" y="1046.19" width="6.4" height="6.4" fill="#E3B01F" stroke="#000" stroke-width="1.8"/>
<rect x="387.1" y="1044.62" width="6.4" height="6.4" fill="#E3B01F" stroke="#000" stroke-width="1.8"/>
<rect x="396.1" y="1050.63" width="6.4" height="6.4" fill="#E3B01F" stroke="#000" stroke-width="1.8"/>
<rect x="376.1" y="1051.84" width="6.4" height="6.4" fill="#E3B01F" stroke="#000" stroke-width="1.8"/>
<rect x="382.8" y="1054.24" width="6.4" height="6.4" fill="#E3B01F" stroke="#000" stroke-width="1.8"/>
<rect x="391.4" y="1055.44" width="6.4" height="6.4" fill="#E3B01F" stroke="#000" stroke-width="1.8"/>
<rect x="398.6" y="1053.04" width="6.4" height="6.4" fill="#E3B01F" stroke="#000" stroke-width="1.8"/>
<rect x="376.1" y="1060.25" width="6.4" height="6.4" fill="#E3B01F" stroke="#000" stroke-width="1.8"/>
<rect x="385.6" y="1061.45" width="6.4" height="6.4" fill="#E3B01F" stroke="#000" stroke-width="1.8"/>
<rect x="394.1" y="1060.25" width="6.4" height="6.4" fill="#E3B01F" stroke="#000" stroke-width="1.8"/>
<rect x="387.1" y="1069.27" width="6.4" height="6.4" fill="#E3B01F" stroke="#000" stroke-width="1.8"/>
<rect x="427" y="1006.16" width="6.4" height="6.4" fill="#F27F80" stroke="#000" stroke-width="1.8"/>
<rect x="427" y="1020.58" width="6.4" height="6.4" fill="#F27F80" stroke="#000" stroke-width="1.8"/>
<rect x="427" y="1024.19" width="6.4" height="6.4" fill="#F27F80" stroke="#000" stroke-width="1.8"/>
<rect x="417" y="1037.41" width="6.4" height="6.4" fill="#F27F80" stroke="#000" stroke-width="1.8"/>
<rect x="423.5" y="1036.21" width="6.4" height="6.4" fill="#F27F80" stroke="#000" stroke-width="1.8"/>
<rect x="432.8" y="1038.61" width="6.4" height="6.4" fill="#F27F80" stroke="#000" stroke-width="1.8"/>
<rect x="436.5" y="1038.01" width="6.4" height="6.4" fill="#F27F80" stroke="#000" stroke-width="1.8"/>
<rect x="420" y="1042.22" width="6.4" height="6.4" fill="#F27F80" stroke="#000" stroke-width="1.8"/>
<rect x="428.5" y="1042.22" width="6.4" height="6.4" fill="#F27F80" stroke="#000" stroke-width="1.8"/>
<rect x="437" y="1044.02" width="6.4" height="6.4" fill="#F27F80" stroke="#000" stroke-width="1.8"/>
<rect x="415.5" y="1047.03" width="6.4" height="6.4" fill="#F27F80" stroke="#000" stroke-width="1.8"/>
<rect x="424.5" y="1047.03" width="6.4" height="6.4" fill="#F27F80" stroke="#000" stroke-width="1.8"/>
<rect x="432.2" y="1048.23" width="6.4" height="6.4" fill="#F27F80" stroke="#000" stroke-width="1.8"/>
<rect x="417" y="1051.84" width="6.4" height="6.4" fill="#F27F80" stroke="#000" stroke-width="1.8"/>
<rect x="437" y="1051.84" width="6.4" height="6.4" fill="#F27F80" stroke="#000" stroke-width="1.8"/>
<rect x="423.5" y="1056.64" width="6.4" height="6.4" fill="#F27F80" stroke="#000" stroke-width="1.8"/>
<rect x="431.3" y="1055.44" width="6.4" height="6.4" fill="#F27F80" stroke="#000" stroke-width="1.8"/>
<rect x="467.2" y="984.52" width="6.4" height="6.4" fill="#B31338" stroke="#000" stroke-width="1.8"/>
<rect x="467.2" y="997.14" width="6.4" height="6.4" fill="#B31338" stroke="#000" stroke-width="1.8"/>
<rect x="467.2" y="1004.96" width="6.4" height="6.4" fill="#B31338" stroke="#000" stroke-width="1.8"/>
<rect x="467.2" y="1010.97" width="6.4" height="6.4" fill="#B31338" stroke="#000" stroke-width="1.8"/>
<rect x="471.5" y="1016.98" width="6.4" height="6.4" fill="#B31338" stroke="#000" stroke-width="1.8"/>
<rect x="462.9" y="1016.98" width="6.4" height="6.4" fill="#B31338" stroke="#000" stroke-width="1.8"/>
<rect x="460" y="1025.39" width="6.4" height="6.4" fill="#B31338" stroke="#000" stroke-width="1.8"/>
<rect x="470.8" y="1025.39" width="6.4" height="6.4" fill="#B31338" stroke="#000" stroke-width="1.8"/>
<rect x="457.8" y="1031.4" width="6.4" height="6.4" fill="#B31338" stroke="#000" stroke-width="1.8"/>
<rect x="478" y="1032.6" width="6.4" height="6.4" fill="#B31338" stroke="#000" stroke-width="1.8"/>
<rect x="467.2" y="1031.4" width="6.4" height="6.4" fill="#B31338" stroke="#000" stroke-width="1.8"/>
<rect x="461.4" y="1035.01" width="6.4" height="6.4" fill="#B31338" stroke="#000" stroke-width="1.8"/>
<rect x="473.7" y="1035.01" width="6.4" height="6.4" fill="#B31338" stroke="#000" stroke-width="1.8"/>
<rect x="456.4" y="1033.81" width="6.4" height="6.4" fill="#B31338" stroke="#000" stroke-width="1.8"/>
<rect x="478.7" y="1034.41" width="6.4" height="6.4" fill="#B31338" stroke="#000" stroke-width="1.8"/>
<rect x="463.6" y="1041.02" width="6.4" height="6.4" fill="#B31338" stroke="#000" stroke-width="1.8"/>
<rect x="472.2" y="1039.82" width="6.4" height="6.4" fill="#B31338" stroke="#000" stroke-width="1.8"/>
<rect x="467.2" y="1042.22" width="6.4" height="6.4" fill="#B31338" stroke="#000" stroke-width="1.8"/>
<path d="M370.2 973.3V1153.6M367.4 1153.6H370.2M367.4 1093.5H370.2M367.4 1033.4H370.2M367.4 973.3H370.2" stroke="#777" stroke-width="1.3" fill="none"/>
<path d="M370.2 1153.6H490.2M390.3 1153.6v5M430.2 1153.6v5M470.4 1153.6v5" stroke="#777" stroke-width="1.3" fill="none"/>
<text x="362.9" y="1158.52" font-size="14.3" font-weight="bold" text-anchor="end">0</text>
<text x="362.9" y="1098.42" font-size="14.3" font-weight="bold" text-anchor="end">5</text>
<text x="362.9" y="1038.32" font-size="14.3" font-weight="bold" text-anchor="end">10</text>
<text x="362.9" y="978.22" font-size="14.3" font-weight="bold" text-anchor="end">15</text>
<path d="M427.4 969.6V957.1H472.3V969.6" stroke="#666" stroke-width="1.3" fill="none"/>
<text x="436.33" y="957.21" font-size="26" stroke="#000" stroke-width="0.6" stroke-linejoin="round" letter-spacing="1.4">***</text>
<text x="394.8" y="1172.9" font-size="17.9" text-anchor="end" transform="rotate(-45 394.8 1172.9)">Ctrl</text>
<text x="434.7" y="1172.9" font-size="17.9" text-anchor="end" transform="rotate(-45 434.7 1172.9)">APAP + siCtrl</text>
<text x="474.9" y="1172.9" font-size="17.9" text-anchor="end" transform="rotate(-45 474.9 1172.9)">APAP + si<tspan font-style="italic">Cnnm4</tspan></text>
<text x="312.2" y="1063.5" font-size="20.2" font-weight="bold" text-anchor="middle" transform="rotate(-90 312.2 1063.5)">Cytosolic-targeted probe</text>
<text x="334.8" y="1062.6" font-size="20.2" font-weight="bold" text-anchor="middle" transform="rotate(-90 334.8 1062.6)">fluorescence ratio (arb. units)</text>
<rect x="759" y="1006.99" width="18.4" height="145.11" fill="#E3B01F"/>
<path d="M759 1152.1V1006.99H777.4V1152.1" fill="none" stroke="#000" stroke-width="2.6" stroke-linejoin="miter"/>
<rect x="788.8" y="1062.62" width="18.4" height="89.48" fill="#F27F80"/>
<path d="M788.8 1152.1V1062.62H807.2V1152.1" fill="none" stroke="#000" stroke-width="2.6" stroke-linejoin="miter"/>
<rect x="818.8" y="1060.63" width="18.4" height="91.47" fill="#A566AB"/>
<path d="M818.8 1152.1V1060.63H837.2V1152.1" fill="none" stroke="#000" stroke-width="2.6" stroke-linejoin="miter"/>
<rect x="848.5" y="1062.62" width="18.4" height="89.48" fill="#A566AB"/>
<path d="M848.5 1152.1V1062.62H866.9V1152.1" fill="none" stroke="#000" stroke-width="2.6" stroke-linejoin="miter"/>
<path d="M798 1047.73V1074.18M792.5 1047.73H803.5M792.5 1074.18H803.5" stroke="#000" stroke-width="2.2" fill="none"/>
<path d="M760.8 1003.5H776.5Q778 1003.5 778 1005V1006.71Q778 1013.9 770.81 1013.9H766.49Q759.3 1013.9 759.3 1006.71V1005Q759.3 1003.5 760.8 1003.5Z" fill="#000"/>
<path d="M791.1 1039.9H805.1Q806.6 1039.9 806.6 1041.4V1048Q806.6 1049.5 805.1 1049.5H791.1Q789.6 1049.5 789.6 1048V1041.4Q789.6 1039.9 791.1 1039.9Z" fill="#000"/>
<path d="M790 1056.6H806.2Q807.7 1056.6 807.7 1058.1V1071.5Q807.7 1077.5 801.7 1077.5H794.5Q788.5 1077.5 788.5 1071.5V1058.1Q788.5 1056.6 790 1056.6Z" fill="#000"/>
<path d="M823.3 1058.5H833.1Q834.6 1058.5 834.6 1060V1063.68Q834.6 1068.6 829.68 1068.6H826.72Q821.8 1068.6 821.8 1063.68V1060Q821.8 1058.5 823.3 1058.5Z" fill="#000"/>
<path d="M848.5 1058.3H866Q867.5 1058.3 867.5 1059.8V1061.39Q867.5 1068.6 860.29 1068.6H854.21Q847 1068.6 847 1061.39V1059.8Q847 1058.3 848.5 1058.3Z" fill="#000"/>
<rect x="759.3" y="997.2" width="6.8" height="6.6" fill="#E3B01F" stroke="#000" stroke-width="1.6"/>
<rect x="770.1" y="997.5" width="7.1" height="6.3" fill="#E3B01F" stroke="#000" stroke-width="1.6"/>
<rect x="795" y="1013" width="6.6" height="6.8" fill="#F27F80" stroke="#000" stroke-width="1.6"/>
<rect x="797.4" y="1042.7" width="6" height="4.3" fill="#F27F80" stroke="#000" stroke-width="0"/>
<rect x="790.3" y="1058.3" width="5.7" height="5.3" fill="#F27F80" stroke="#000" stroke-width="0"/>
<rect x="799.5" y="1058.3" width="5.7" height="5.3" fill="#F27F80" stroke="#000" stroke-width="0"/>
<rect x="792.8" y="1066.8" width="4.3" height="5.7" fill="#F27F80" stroke="#000" stroke-width="0"/>
<rect x="800.2" y="1066.8" width="4.6" height="5.7" fill="#F27F80" stroke="#000" stroke-width="0"/>
<rect x="795" y="1079.7" width="6.2" height="6.2" fill="#F27F80" stroke="#000" stroke-width="1.6"/>
<rect x="819.8" y="1048.8" width="6.2" height="6.6" fill="#A566AB" stroke="#000" stroke-width="1.6"/>
<rect x="829" y="1048.8" width="7.2" height="6.6" fill="#A566AB" stroke="#000" stroke-width="1.6"/>
<rect x="828.1" y="1053.2" width="5.8" height="4.7" fill="#A566AB" stroke="#000" stroke-width="1.2"/>
<rect x="823" y="1058.5" width="4.5" height="4" fill="#A566AB" stroke="#000" stroke-width="0"/>
<rect x="829.5" y="1060" width="3.5" height="3" fill="#A566AB" stroke="#000" stroke-width="0"/>
<rect x="849.5" y="1048.2" width="6.2" height="6.5" fill="#A566AB" stroke="#000" stroke-width="1.6"/>
<rect x="859.1" y="1048.2" width="6.9" height="6.5" fill="#A566AB" stroke="#000" stroke-width="1.6"/>
<rect x="854.5" y="1060.5" width="2.5" height="2.5" fill="#A566AB" stroke="#000" stroke-width="0"/>
<rect x="858.5" y="1060.5" width="2.5" height="2.5" fill="#A566AB" stroke="#000" stroke-width="0"/>
<path d="M753.4 970.9V1152.1M748.9 1152.1H753.4M748.9 1115.86H753.4M748.9 1079.62H753.4M748.9 1043.38H753.4M748.9 1007.14H753.4M748.9 970.9H753.4" stroke="#777" stroke-width="1.3" fill="none"/>
<path d="M753.4 1152.1H872.9M768.2 1152.1v5M798 1152.1v5M828 1152.1v5M857.7 1152.1v5" stroke="#777" stroke-width="1.3" fill="none"/>
<text x="747.8" y="1156.98" font-size="14.2" font-weight="bold" text-anchor="end">0</text>
<text x="747.8" y="1120.74" font-size="14.2" font-weight="bold" text-anchor="end">10</text>
<text x="747.8" y="1084.5" font-size="14.2" font-weight="bold" text-anchor="end">20</text>
<text x="747.8" y="1048.26" font-size="14.2" font-weight="bold" text-anchor="end">30</text>
<text x="747.8" y="1012.02" font-size="14.2" font-weight="bold" text-anchor="end">40</text>
<text x="747.8" y="975.78" font-size="14.2" font-weight="bold" text-anchor="end">50</text>
<path d="M766.4 990.5V977.8H802.1V990.5" stroke="#666" stroke-width="1.3" fill="none"/>
<text x="769.03" y="979.36" font-size="26" stroke="#000" stroke-width="0.6" stroke-linejoin="round" letter-spacing="1.4">***</text>
<text x="773" y="1169.6" font-size="18" text-anchor="end" transform="rotate(-45 773 1169.6)">Ctrl</text>
<text x="802.8" y="1169.6" font-size="18" text-anchor="end" transform="rotate(-45 802.8 1169.6)">APAP</text>
<text x="832.8" y="1169.6" font-size="18" text-anchor="end" transform="rotate(-45 832.8 1169.6)">APAP + 5mM Mg<tspan dy="-6" font-size="70%">2+</tspan></text>
<text x="862.5" y="1169.6" font-size="18" text-anchor="end" transform="rotate(-45 862.5 1169.6)">APAP + 20mM Mg<tspan dy="-6" font-size="70%">2+</tspan></text>
<text x="698.6" y="1061.8" font-size="19.9" font-weight="bold" text-anchor="middle" transform="rotate(-90 698.6 1061.8)">Mitochondrial-targeted probe</text>
<text x="722.1" y="1058.5" font-size="19.9" font-weight="bold" text-anchor="middle" transform="rotate(-90 722.1 1058.5)">fluorescence ratio (a.u.)</text>
<rect x="1007.8" y="1003.72" width="18.4" height="142.58" fill="#E3B01F"/>
<path d="M1007.8 1146.3V1003.72H1026.2V1146.3" fill="none" stroke="#000" stroke-width="2.6" stroke-linejoin="miter"/>
<rect x="1037.5" y="1001.92" width="18.4" height="144.38" fill="#F27F80"/>
<path d="M1037.5 1146.3V1001.92H1055.9V1146.3" fill="none" stroke="#000" stroke-width="2.6" stroke-linejoin="miter"/>
<rect x="1067.3" y="1000.71" width="18.4" height="145.59" fill="#A566AB"/>
<path d="M1067.3 1146.3V1000.71H1085.7V1146.3" fill="none" stroke="#000" stroke-width="2.6" stroke-linejoin="miter"/>
<rect x="1097" y="1001.92" width="18.4" height="144.38" fill="#A566AB"/>
<path d="M1097 1146.3V1001.92H1115.4V1146.3" fill="none" stroke="#000" stroke-width="2.6" stroke-linejoin="miter"/>
<path d="M1010.9 996.4H1023Q1024.5 996.4 1024.5 997.9V1001.1Q1024.5 1002.6 1023 1002.6H1010.9Q1009.4 1002.6 1009.4 1001.1V997.9Q1009.4 996.4 1010.9 996.4Z" fill="#000"/>
<path d="M1013 1002.6H1020.9Q1022.4 1002.6 1022.4 1004.1V1010.91Q1022.4 1015.1 1018.21 1015.1H1015.69Q1011.5 1015.1 1011.5 1010.91V1004.1Q1011.5 1002.6 1013 1002.6Z" fill="#000"/>
<path d="M1038.5 995.3H1055.3Q1056.8 995.3 1056.8 996.8V998.63Q1056.8 1006.25 1049.18 1006.25H1044.62Q1037 1006.25 1037 998.63V996.8Q1037 995.3 1038.5 995.3Z" fill="#000"/>
<path d="M1067.1 995.3H1086Q1087.5 995.3 1087.5 996.8V998.58Q1087.5 1006.25 1079.84 1006.25H1073.26Q1065.6 1006.25 1065.6 998.58V996.8Q1065.6 995.3 1067.1 995.3Z" fill="#000"/>
<path d="M1096.8 992.2H1114.1Q1115.6 992.2 1115.6 993.7V1003.19Q1115.6 1011 1107.79 1011H1103.11Q1095.3 1011 1095.3 1003.19V993.7Q1095.3 992.2 1096.8 992.2Z" fill="#000"/>
<rect x="1013.3" y="985.2" width="6.7" height="6.2" fill="#E3B01F" stroke="#000" stroke-width="1.6"/>
<rect x="1011" y="998.4" width="4.6" height="4.2" fill="#E3B01F" stroke="#000" stroke-width="0"/>
<rect x="1017.7" y="998.4" width="5.2" height="4.2" fill="#E3B01F" stroke="#000" stroke-width="0"/>
<rect x="1014.6" y="1008.3" width="5.7" height="4.2" fill="#E3B01F" stroke="#000" stroke-width="0"/>
<rect x="1043.7" y="1002" width="5.8" height="2.7" fill="#F27F80" stroke="#000" stroke-width="0"/>
<rect x="1067.45" y="981.45" width="6.8" height="6.8" fill="#A566AB" stroke="#000" stroke-width="1.5"/>
<rect x="1072.65" y="983.55" width="6.8" height="6.7" fill="#A566AB" stroke="#000" stroke-width="1.5"/>
<rect x="1078.85" y="981.95" width="6.3" height="5.8" fill="#A566AB" stroke="#000" stroke-width="1.5"/>
<rect x="1076.25" y="987.25" width="6.3" height="5.75" fill="#A566AB" stroke="#000" stroke-width="1.5"/>
<rect x="1074.5" y="999.5" width="2" height="3.5" fill="#A566AB" stroke="#000" stroke-width="0"/>
<rect x="1077.5" y="999.5" width="2" height="3.5" fill="#A566AB" stroke="#000" stroke-width="0"/>
<rect x="1092.95" y="986.75" width="6.8" height="6.8" fill="#A566AB" stroke="#000" stroke-width="1.5"/>
<rect x="1113.25" y="988.75" width="5.8" height="6.9" fill="#A566AB" stroke="#000" stroke-width="1.5"/>
<rect x="1108.3" y="995.3" width="6.3" height="5.6" fill="#A566AB" stroke="#000" stroke-width="0"/>
<rect x="1103" y="1004.5" width="6" height="4" fill="#A566AB" stroke="#000" stroke-width="0"/>
<path d="M1002.25 965.7V1146.3M998.45 1146.3H1002.25M998.45 1086.1H1002.25M998.45 1025.9H1002.25M998.45 965.7H1002.25" stroke="#777" stroke-width="1.3" fill="none"/>
<path d="M1002.25 1146.3H1125M1017 1146.3v5M1046.7 1146.3v5M1076.5 1146.3v5M1106.2 1146.3v5" stroke="#777" stroke-width="1.3" fill="none"/>
<text x="996.25" y="1151.18" font-size="14.2" font-weight="bold" text-anchor="end">0</text>
<text x="996.25" y="1090.98" font-size="14.2" font-weight="bold" text-anchor="end">5</text>
<text x="996.25" y="1030.78" font-size="14.2" font-weight="bold" text-anchor="end">10</text>
<text x="996.25" y="970.58" font-size="14.2" font-weight="bold" text-anchor="end">15</text>
<text x="1021.8" y="1163.1" font-size="18" text-anchor="end" transform="rotate(-45 1021.8 1163.1)">Ctrl</text>
<text x="1051.5" y="1163.1" font-size="18" text-anchor="end" transform="rotate(-45 1051.5 1163.1)">APAP</text>
<text x="1081.3" y="1163.1" font-size="18" text-anchor="end" transform="rotate(-45 1081.3 1163.1)">APAP + 5mM Mg<tspan dy="-6" font-size="70%">2+</tspan></text>
<text x="1111" y="1163.1" font-size="18" text-anchor="end" transform="rotate(-45 1111 1163.1)">APAP + 20mM Mg<tspan dy="-6" font-size="70%">2+</tspan></text>
<text x="945.45" y="1056.3" font-size="20" font-weight="bold" text-anchor="middle" transform="rotate(-90 945.45 1056.3)">Cytosolic-targeted probe</text>
<text x="969.6" y="1053.05" font-size="20" font-weight="bold" text-anchor="middle" transform="rotate(-90 969.6 1053.05)">fluorescence ratio (a.u.)</text>
<rect x="138" y="1472.99" width="18.2" height="120.71" fill="#E3B01F"/>
<path d="M138 1593.7V1472.99H156.2V1593.7" fill="none" stroke="#000" stroke-width="2.6" stroke-linejoin="miter"/>
<rect x="168" y="1504.4" width="18.2" height="89.3" fill="#F27F80"/>
<path d="M168 1593.7V1504.4H186.2V1593.7" fill="none" stroke="#000" stroke-width="2.6" stroke-linejoin="miter"/>
<rect x="197.8" y="1525.54" width="18.2" height="68.16" fill="#B31338"/>
<path d="M197.8 1593.7V1525.54H216V1593.7" fill="none" stroke="#000" stroke-width="2.6" stroke-linejoin="miter"/>
<rect x="228" y="1451.85" width="18.2" height="141.85" fill="#8BB965"/>
<path d="M228 1593.7V1451.85H246.2V1593.7" fill="none" stroke="#000" stroke-width="2.6" stroke-linejoin="miter"/>
<path d="M138.3 1465H156.1Q157.6 1465 157.6 1466.5V1472.1Q157.6 1480.1 149.6 1480.1H144.8Q136.8 1480.1 136.8 1472.1V1466.5Q136.8 1465 138.3 1465Z" fill="#000"/>
<path d="M168 1496.8H185.8Q187.3 1496.8 187.3 1498.3V1504.9Q187.3 1512.9 179.3 1512.9H174.5Q166.5 1512.9 166.5 1504.9V1498.3Q166.5 1496.8 168 1496.8Z" fill="#000"/>
<path d="M198.2 1515.5H215.5Q217 1515.5 217 1517V1524.69Q217 1532.5 209.19 1532.5H204.51Q196.7 1532.5 196.7 1524.69V1517Q196.7 1515.5 198.2 1515.5Z" fill="#000"/>
<path d="M227.9 1445.2H245.7Q247.2 1445.2 247.2 1446.7V1450.2Q247.2 1458.2 239.2 1458.2H234.4Q226.4 1458.2 226.4 1450.2V1446.7Q226.4 1445.2 227.9 1445.2Z" fill="#000"/>
<rect x="173.5" y="1477.8" width="7.3" height="7.2" fill="#F27F80" stroke="#000" stroke-width="1.6"/>
<rect x="168.5" y="1499" width="6.3" height="5" fill="#F27F80" stroke="#000" stroke-width="0"/>
<rect x="179.5" y="1500" width="6.2" height="5.6" fill="#F27F80" stroke="#000" stroke-width="0"/>
<rect x="141.5" y="1469" width="5.5" height="1.5" fill="#E3B01F" stroke="#000" stroke-width="0"/>
<rect x="149.5" y="1469" width="4.5" height="1.5" fill="#E3B01F" stroke="#000" stroke-width="0"/>
<rect x="143" y="1472" width="4" height="1.5" fill="#E3B01F" stroke="#000" stroke-width="0"/>
<rect x="149.5" y="1472" width="3.5" height="1.5" fill="#E3B01F" stroke="#000" stroke-width="0"/>
<rect x="203" y="1518.5" width="7" height="3.5" fill="#B31338" stroke="#000" stroke-width="0"/>
<rect x="199" y="1520" width="3" height="3" fill="#B31338" stroke="#000" stroke-width="0"/>
<rect x="230.5" y="1449" width="5.5" height="1.5" fill="#8BB965" stroke="#000" stroke-width="0"/>
<rect x="238.5" y="1449" width="5.5" height="1.5" fill="#8BB965" stroke="#000" stroke-width="0"/>
<rect x="230.5" y="1452" width="5.5" height="1.5" fill="#8BB965" stroke="#000" stroke-width="0"/>
<rect x="238.5" y="1452" width="5.5" height="1.5" fill="#8BB965" stroke="#000" stroke-width="0"/>
<path d="M132.3 1412.5V1593.7M128 1593.7H132.3M128 1533.3H132.3M128 1472.9H132.3M128 1412.5H132.3" stroke="#777" stroke-width="1.3" fill="none"/>
<path d="M132.3 1593.7H251.7M147.1 1593.7v5M177.1 1593.7v5M206.9 1593.7v5M237.1 1593.7v5" stroke="#777" stroke-width="1.3" fill="none"/>
<text x="126.3" y="1598.58" font-size="14.2" font-weight="bold" text-anchor="end">0</text>
<text x="126.3" y="1538.18" font-size="14.2" font-weight="bold" text-anchor="end">10</text>
<text x="126.3" y="1477.78" font-size="14.2" font-weight="bold" text-anchor="end">20</text>
<text x="126.3" y="1417.38" font-size="14.2" font-weight="bold" text-anchor="end">30</text>
<path d="M144.9 1457.5V1445.2H180.5V1457.5" stroke="#666" stroke-width="1.3" fill="none"/>
<text x="148.83" y="1444.76" font-size="26" stroke="#000" stroke-width="0.6" stroke-linejoin="round" letter-spacing="1.4">***</text>
<path d="M178.8 1424.8V1411.8H214.7V1424.8" stroke="#666" stroke-width="1.3" fill="none"/>
<text x="182.63" y="1411.66" font-size="26" stroke="#000" stroke-width="0.6" stroke-linejoin="round" letter-spacing="1.4">***</text>
<path d="M178.1 1396.7V1384.5H242.3V1396.7" stroke="#666" stroke-width="1.3" fill="none"/>
<text x="193.83" y="1384.36" font-size="26" stroke="#000" stroke-width="0.6" stroke-linejoin="round" letter-spacing="1.4">***</text>
<text x="151.6" y="1610.7" font-size="18.1" text-anchor="end" transform="rotate(-45 151.6 1610.7)">Ctrl</text>
<text x="181.6" y="1610.7" font-size="18.1" text-anchor="end" transform="rotate(-45 181.6 1610.7)">APAP</text>
<text x="211.4" y="1610.7" font-size="18.1" text-anchor="end" transform="rotate(-45 211.4 1610.7)">APAP + Cnnm4</text>
<text x="241.6" y="1610.7" font-size="18.1" text-anchor="end" transform="rotate(-45 241.6 1610.7)">APAP + Cnnm4 T495I</text>
<text x="78.3" y="1502.25" font-size="19.9" font-weight="bold" text-anchor="middle" transform="rotate(-90 78.3 1502.25)">Mitochondrial-targeted probe</text>
<text x="102.7" y="1500.1" font-size="19.9" font-weight="bold" text-anchor="middle" transform="rotate(-90 102.7 1500.1)">fluorescence ratio (a.u.)</text>
<rect x="406.05" y="1479.84" width="17.9" height="115.96" fill="#E3B01F"/>
<path d="M406.05 1595.8V1479.84H423.95V1595.8" fill="none" stroke="#000" stroke-width="2.6" stroke-linejoin="miter"/>
<rect x="435.95" y="1473.07" width="17.9" height="122.73" fill="#F27F80"/>
<path d="M435.95 1595.8V1473.07H453.85V1595.8" fill="none" stroke="#000" stroke-width="2.6" stroke-linejoin="miter"/>
<rect x="465.85" y="1512.31" width="17.9" height="83.49" fill="#B31338"/>
<path d="M465.85 1595.8V1512.31H483.75V1595.8" fill="none" stroke="#000" stroke-width="2.6" stroke-linejoin="miter"/>
<rect x="495.75" y="1451.88" width="17.9" height="143.92" fill="#8BB965"/>
<path d="M495.75 1595.8V1451.88H513.65V1595.8" fill="none" stroke="#000" stroke-width="2.6" stroke-linejoin="miter"/>
<path d="M406.7 1470H423.8Q425.3 1470 425.3 1471.5V1474.57Q425.3 1482.3 417.57 1482.3H412.93Q405.2 1482.3 405.2 1474.57V1471.5Q405.2 1470 406.7 1470Z" fill="#000"/>
<path d="M435.5 1466H454.5Q456 1466 456 1467.5V1478.04Q456 1486.5 447.54 1486.5H442.46Q434 1486.5 434 1478.04V1467.5Q434 1466 435.5 1466Z" fill="#000"/>
<path d="M465.7 1503.8H483.5Q485 1503.8 485 1505.3V1513.8Q485 1521.8 477 1521.8H472.2Q464.2 1521.8 464.2 1513.8V1505.3Q464.2 1503.8 465.7 1503.8Z" fill="#000"/>
<path d="M495.9 1439.1H512.3Q513.8 1439.1 513.8 1440.6V1443.14Q513.8 1450.6 506.34 1450.6H501.86Q494.4 1450.6 494.4 1443.14V1440.6Q494.4 1439.1 495.9 1439.1Z" fill="#000"/>
<rect x="407.5" y="1488.1" width="6.3" height="6.3" fill="#E3B01F" stroke="#000" stroke-width="1.6"/>
<rect x="416.8" y="1488.1" width="6.3" height="6.3" fill="#E3B01F" stroke="#000" stroke-width="1.6"/>
<rect x="408.5" y="1472.3" width="5.8" height="5" fill="#E3B01F" stroke="#000" stroke-width="0"/>
<rect x="416.3" y="1472.3" width="5.7" height="5" fill="#E3B01F" stroke="#000" stroke-width="0"/>
<rect x="409" y="1479" width="2" height="1.5" fill="#E3B01F" stroke="#000" stroke-width="0"/>
<rect x="414" y="1479" width="2" height="1.5" fill="#E3B01F" stroke="#000" stroke-width="0"/>
<rect x="419" y="1479" width="2" height="1.5" fill="#E3B01F" stroke="#000" stroke-width="0"/>
<rect x="442" y="1450" width="6.3" height="5.6" fill="#F27F80" stroke="#000" stroke-width="1.6"/>
<rect x="436.9" y="1456" width="7.1" height="6.8" fill="#F27F80" stroke="#000" stroke-width="1.6"/>
<rect x="446" y="1455.3" width="6.6" height="7.5" fill="#F27F80" stroke="#000" stroke-width="1.6"/>
<rect x="437.2" y="1462.7" width="14.6" height="4.6" fill="#5a2a2a" stroke="#000" stroke-width="1.4"/>
<rect x="442.6" y="1480.5" width="6.5" height="3.9" fill="#F27F80" stroke="#000" stroke-width="0"/>
<rect x="441.5" y="1475" width="4.5" height="2.5" fill="#F27F80" stroke="#000" stroke-width="0"/>
<rect x="471" y="1509" width="6" height="3" fill="#B31338" stroke="#000" stroke-width="0"/>
<rect x="470" y="1516" width="6" height="3" fill="#B31338" stroke="#000" stroke-width="0"/>
<rect x="495.75" y="1451.25" width="6.6" height="6" fill="#8BB965" stroke="#000" stroke-width="1.3"/>
<rect x="504.15" y="1451.25" width="6.7" height="6" fill="#8BB965" stroke="#000" stroke-width="1.3"/>
<rect x="499.5" y="1463.7" width="7" height="6.3" fill="#8BB965" stroke="#000" stroke-width="1.6"/>
<rect x="499" y="1443" width="4" height="3" fill="#8BB965" stroke="#000" stroke-width="0"/>
<rect x="506" y="1443" width="4" height="3" fill="#8BB965" stroke="#000" stroke-width="0"/>
<path d="M400.5 1415.4V1595.8M395.5 1595.8H400.5M395.5 1550.7H400.5M395.5 1505.6H400.5M395.5 1460.5H400.5M395.5 1415.4H400.5" stroke="#777" stroke-width="1.3" fill="none"/>
<path d="M400.5 1595.8H520.2M415 1595.8v5M444.9 1595.8v5M474.8 1595.8v5M504.7 1595.8v5" stroke="#777" stroke-width="1.3" fill="none"/>
<text x="395.1" y="1600.68" font-size="14.2" font-weight="bold" text-anchor="end">0</text>
<text x="395.1" y="1555.58" font-size="14.2" font-weight="bold" text-anchor="end">2</text>
<text x="395.1" y="1510.48" font-size="14.2" font-weight="bold" text-anchor="end">4</text>
<text x="395.1" y="1465.38" font-size="14.2" font-weight="bold" text-anchor="end">6</text>
<text x="395.1" y="1420.28" font-size="14.2" font-weight="bold" text-anchor="end">8</text>
<path d="M445.9 1437V1424.3H481.4V1437" stroke="#666" stroke-width="1.3" fill="none"/>
<text x="449.03" y="1424.26" font-size="26" stroke="#000" stroke-width="0.6" stroke-linejoin="round" letter-spacing="1.4">***</text>
<path d="M446.2 1401.8V1389.1H509.4V1401.8" stroke="#666" stroke-width="1.3" fill="none"/>
<text x="461.23" y="1388.66" font-size="26" stroke="#000" stroke-width="0.6" stroke-linejoin="round" letter-spacing="1.4">***</text>
<text x="419.5" y="1612.8" font-size="18.1" text-anchor="end" transform="rotate(-45 419.5 1612.8)">Ctrl</text>
<text x="449.4" y="1612.8" font-size="18.1" text-anchor="end" transform="rotate(-45 449.4 1612.8)">APAP</text>
<text x="479.3" y="1612.8" font-size="18.1" text-anchor="end" transform="rotate(-45 479.3 1612.8)">APAP + Cnnm4</text>
<text x="509.2" y="1612.8" font-size="18.1" text-anchor="end" transform="rotate(-45 509.2 1612.8)">APAP + Cnnm4 T495I</text>
<text x="350.05" y="1507.95" font-size="20" font-weight="bold" text-anchor="middle" transform="rotate(-90 350.05 1507.95)">Cytosolic-targeted probe</text>
<text x="373.4" y="1502.75" font-size="20" font-weight="bold" text-anchor="middle" transform="rotate(-90 373.4 1502.75)">fluorescence ratio (a.u.)</text>
<text x="0.5" y="29.9" font-size="41" font-weight="bold">a</text>
<text x="319.5" y="31.1" font-size="41" font-weight="bold">b</text>
<text x="640.8" y="30.3" font-size="41" font-weight="bold">c</text>
<text x="0.5" y="454.8" font-size="41" font-weight="bold">d</text>
<text x="413" y="454.7" font-size="41" font-weight="bold">e</text>
<text x="0.1" y="925.3" font-size="41" font-weight="bold">f</text>
<text x="630.3" y="924.6" font-size="41" font-weight="bold">g</text>
<text x="-0.6" y="1380.2" font-size="41" font-weight="bold">h</text>
<path d="M97 789H206.6M225 788H330" stroke="#777" stroke-width="1.3"/>
<text x="152.2" y="815.3" font-size="17.5" text-anchor="middle">1h</text><text x="281.7" y="815" font-size="17.5" text-anchor="middle">3h</text>
<path d="M484.3 816.5H590.5M604 814.3H720.5" stroke="#777" stroke-width="1.3"/>
<text x="539.2" y="842.6" font-size="17.5" text-anchor="middle">1h</text><text x="668.4" y="842.1" font-size="17.5" text-anchor="middle">3h</text>
<rect x="980.2" y="1.8" width="167" height="137.5" rx="1.5" fill="#fff" stroke="#3a3a3a" stroke-width="1.5"/>
<clipPath id="m1"><path d="M1004.2 58.87C1004.2 39.21 1034.1 27.2 1064 27.2C1097.49 27.2 1123.8 38.12 1123.8 57.23C1123.8 71.97 1114.23 81.8 1099.88 81.8C1085.53 81.8 1078.35 71.97 1064 71.97C1049.65 71.97 1043.67 80.16 1028.12 80.16C1012.57 80.16 1004.2 71.97 1004.2 58.87Z"/></clipPath>
<path d="M1004.2 58.87C1004.2 39.21 1034.1 27.2 1064 27.2C1097.49 27.2 1123.8 38.12 1123.8 57.23C1123.8 71.97 1114.23 81.8 1099.88 81.8C1085.53 81.8 1078.35 71.97 1064 71.97C1049.65 71.97 1043.67 80.16 1028.12 80.16C1012.57 80.16 1004.2 71.97 1004.2 58.87Z" fill="#F9D4D6" stroke="#CD6B6B" stroke-width="7" stroke-linejoin="round"/>
<path clip-path="url(#m1)" d="M1029.01 24L1033.22 65.48M1044.3 24L1046.67 65.48M1059.59 24L1060.12 65.48M1074.89 24L1073.58 65.48M1090.18 24L1087.03 65.48M1105.47 24L1100.48 65.48M1023.61 85L1018.46 42.3M1038.05 85L1034.74 42.3M1052.49 85L1051.03 42.3M1066.94 85L1067.31 42.3M1081.38 85L1083.6 42.3M1095.82 85L1099.88 42.3M1110.27 85L1116.16 42.3M1001 49.62L1017.38 54.5M1001 67.92L1017.38 64.26M1127 48.4L1118.18 53.28M1127 66.7L1118.18 61.82" stroke="#CD6B6B" stroke-width="2.4" stroke-linecap="round" fill="none"/>
<rect x="1013" y="76" width="5.04" height="13" rx="1.5" fill="#FBC76C"/><rect x="1019.96" y="76" width="5.04" height="13" rx="1.5" fill="#FBC76C"/><rect x="1017.04" y="79.9" width="3.92" height="5.2" fill="#FBC76C"/>
<rect x="1091" y="74.5" width="5.04" height="13" rx="1.5" fill="#6CC6C6"/><rect x="1097.96" y="74.5" width="5.04" height="13" rx="1.5" fill="#6CC6C6"/><rect x="1095.04" y="78.4" width="3.92" height="5.2" fill="#6CC6C6"/>
<path d="M1018.8 68V98" stroke="#222" stroke-width="1.6"/><path d="M1014.5 97H1023.1L1018.8 105Z" fill="#222"/>
<path d="M1097.3 67V95.6" stroke="#222" stroke-width="1.6"/><path d="M1093 94.6H1101.6L1097.3 102.6Z" fill="#222"/>
<text x="1057" y="88.7" font-size="8.7" fill="#E4141B" font-weight="bold" text-anchor="start" textLength="31.5" lengthAdjust="spacingAndGlyphs">CNNM4</text>
<text x="981.5" y="91.5" font-size="6.2" fill="#777" font-weight="bold" text-anchor="start">Other Mg<tspan font-size="4.5" dy="-3">2+</tspan></text>
<text x="981.5" y="99.5" font-size="6.2" fill="#777" font-weight="bold" text-anchor="start">extruders</text>
<circle cx="1038" cy="48" r="1.7" fill="#6d97b0" stroke="#1d4563" stroke-width="1.2"/>
<circle cx="1056" cy="51" r="1.7" fill="#6d97b0" stroke="#1d4563" stroke-width="1.2"/>
<circle cx="1081" cy="46" r="1.7" fill="#6d97b0" stroke="#1d4563" stroke-width="1.2"/>
<circle cx="1092" cy="53" r="1.7" fill="#6d97b0" stroke="#1d4563" stroke-width="1.2"/>
<circle cx="1075" cy="63" r="1.7" fill="#6d97b0" stroke="#1d4563" stroke-width="1.2"/>
<circle cx="1105" cy="62" r="1.7" fill="#6d97b0" stroke="#1d4563" stroke-width="1.2"/>
<circle cx="1114" cy="59" r="1.7" fill="#6d97b0" stroke="#1d4563" stroke-width="1.2"/>
<circle cx="1010" cy="110" r="1.7" fill="#6d97b0" stroke="#1d4563" stroke-width="1.2"/>
<circle cx="1030" cy="111" r="1.7" fill="#6d97b0" stroke="#1d4563" stroke-width="1.2"/>
<circle cx="1013" cy="124.5" r="1.7" fill="#6d97b0" stroke="#1d4563" stroke-width="1.2"/>
<circle cx="1026" cy="126" r="1.7" fill="#6d97b0" stroke="#1d4563" stroke-width="1.2"/>
<circle cx="1085" cy="109" r="1.7" fill="#6d97b0" stroke="#1d4563" stroke-width="1.2"/>
<circle cx="1097" cy="115" r="1.7" fill="#6d97b0" stroke="#1d4563" stroke-width="1.2"/>
<circle cx="1105" cy="110" r="1.7" fill="#6d97b0" stroke="#1d4563" stroke-width="1.2"/>
<circle cx="1089" cy="123" r="1.7" fill="#6d97b0" stroke="#1d4563" stroke-width="1.2"/>
<circle cx="1101" cy="124.5" r="1.7" fill="#6d97b0" stroke="#1d4563" stroke-width="1.2"/>
<path d="M981.2 139.8L1020.4 178.3" stroke="#333" stroke-width="1.1" stroke-dasharray="2 2"/>
<path d="M1145.9 139.8L1040.6 180" stroke="#333" stroke-width="1.1" stroke-dasharray="2 2"/>
<path d="M1025.5 176.25C1028.08 175.75 1033.62 175.75 1038 175.5C1042.38 175.25 1048.58 174.33 1051.75 174.75C1054.92 175.17 1055.5 176.38 1057 178C1058.5 179.62 1059.88 182.29 1060.75 184.5C1061.62 186.71 1060.75 189.5 1062.25 191.25C1063.75 193 1067.79 193.54 1069.75 195C1071.71 196.46 1072.88 197.88 1074 200C1075.12 202.12 1076.17 205.58 1076.5 207.75C1076.83 209.92 1076.25 211.38 1076 213C1075.75 214.62 1075.83 215.5 1075 217.5C1074.17 219.5 1072.25 222.88 1071 225C1069.75 227.12 1069.33 228.5 1067.5 230.25C1065.67 232 1062.58 234.71 1060 235.5C1057.42 236.29 1054.5 235.5 1052 235C1049.5 234.5 1047.33 232.42 1045 232.5C1042.67 232.58 1041.12 235.12 1038 235.5C1034.88 235.88 1029.08 235.83 1026.25 234.75C1023.42 233.67 1022.5 230.88 1021 229C1019.5 227.12 1018.68 226.42 1017.25 223.5C1015.82 220.58 1012.77 215.5 1012.4 211.5C1012.02 207.5 1013.94 202.25 1015 199.5C1016.06 196.75 1018.18 197 1018.75 195C1019.32 193 1017.77 190.25 1018.4 187.5C1019.02 184.75 1021.32 180.38 1022.5 178.5C1023.68 176.62 1022.92 176.75 1025.5 176.25Z" fill="#FBA68A"/>
<circle cx="1043" cy="214.5" r="11.3" fill="#D65A30"/>
<ellipse cx="1031.5" cy="188.25" rx="3.6" ry="1.9" transform="rotate(-40 1031.5 188.25)" fill="none" stroke="#EE8C70" stroke-width="0.7"/><ellipse cx="1048" cy="186" rx="3.6" ry="1.9" transform="rotate(20 1048 186)" fill="none" stroke="#EE8C70" stroke-width="0.7"/><ellipse cx="1042.75" cy="195.75" rx="3.6" ry="1.9" transform="rotate(10 1042.75 195.75)" fill="none" stroke="#EE8C70" stroke-width="0.7"/><ellipse cx="1026.25" cy="206.25" rx="3.6" ry="1.9" transform="rotate(-70 1026.25 206.25)" fill="none" stroke="#EE8C70" stroke-width="0.7"/><ellipse cx="1063.75" cy="204.75" rx="3.6" ry="1.9" transform="rotate(60 1063.75 204.75)" fill="none" stroke="#EE8C70" stroke-width="0.7"/><ellipse cx="1060" cy="219" rx="3.6" ry="1.9" transform="rotate(-60 1060 219)" fill="none" stroke="#EE8C70" stroke-width="0.7"/>
<rect x="1020.6" y="178.5" width="19.9" height="16.9" fill="none" stroke="#555" stroke-width="0.9"/>
<text x="1001.5" y="248.4" font-size="10.1" fill="#333" font-weight="normal" text-anchor="start" textLength="86" lengthAdjust="spacingAndGlyphs">Healthy hepatocyte</text>
<text x="931" y="277.7" font-size="15" fill="#E4141B" font-weight="bold" text-anchor="start" textLength="107" lengthAdjust="spacingAndGlyphs">APAP Overdose</text>
<path d="M1049.75 255V293.85" stroke="#222" stroke-width="3"/><path d="M1042.95 292.85H1056.55L1049.75 306.25Z" fill="#222"/>
<rect x="980.5" y="312.5" width="168.2" height="137.5" rx="1.5" fill="#fff" stroke="#3a3a3a" stroke-width="1.5"/>
<clipPath id="m2"><path d="M997.2 366.66C997.2 346.82 1028.6 334.7 1060 334.7C1095.17 334.7 1122.8 345.72 1122.8 365C1122.8 379.88 1112.75 389.8 1097.68 389.8C1082.61 389.8 1075.07 379.88 1060 379.88C1044.93 379.88 1038.65 388.15 1022.32 388.15C1005.99 388.15 997.2 379.88 997.2 366.66Z"/></clipPath>
<path d="M997.2 366.66C997.2 346.82 1028.6 334.7 1060 334.7C1095.17 334.7 1122.8 345.72 1122.8 365C1122.8 379.88 1112.75 389.8 1097.68 389.8C1082.61 389.8 1075.07 379.88 1060 379.88C1044.93 379.88 1038.65 388.15 1022.32 388.15C1005.99 388.15 997.2 379.88 997.2 366.66Z" fill="#EBD3CB" stroke="#A4715E" stroke-width="7" stroke-linejoin="round"/>
<path clip-path="url(#m2)" d="M1023.39 331.5L1027.6 373.32M1039.39 331.5L1041.76 373.32M1055.39 331.5L1055.92 373.32M1071.39 331.5L1070.08 373.32M1087.39 331.5L1084.24 373.32M1103.39 331.5L1098.4 373.32M1017.63 393L1012.48 349.95M1032.78 393L1029.47 349.95M1047.93 393L1046.46 349.95M1063.08 393L1063.46 349.95M1078.23 393L1080.45 349.95M1093.38 393L1097.44 349.95M1108.54 393L1114.43 349.95M994 357.33L1011.16 362.25M994 375.78L1011.16 372.09M1126 356.1L1116.76 361.02M1126 374.55L1116.76 369.63" stroke="#A4715E" stroke-width="2.4" stroke-linecap="round" fill="none"/>
<rect x="1013.75" y="387.5" width="4.72" height="13.75" rx="1.5" fill="#FBC76C"/><rect x="1020.27" y="387.5" width="4.72" height="13.75" rx="1.5" fill="#FBC76C"/><rect x="1017.48" y="391.62" width="3.8" height="5.5" fill="#FBC76C"/>
<rect x="1091.25" y="385" width="4.72" height="15" rx="1.5" fill="#6CC6C6"/><rect x="1097.78" y="385" width="4.72" height="15" rx="1.5" fill="#6CC6C6"/><rect x="1094.97" y="389.5" width="3.8" height="6" fill="#6CC6C6"/>
<path d="M1019 372.5V409.25" stroke="#222" stroke-width="1.6"/><path d="M1014.7 408.25H1023.3L1019 416.25Z" fill="#222"/>
<path d="M1097.5 377.5V408" stroke="#222" stroke-width="1.6"/><path d="M1093.2 407H1101.8L1097.5 415Z" fill="#222"/>
<text x="1057" y="401.2" font-size="8.7" fill="#E4141B" font-weight="bold" text-anchor="start" textLength="31.7" lengthAdjust="spacingAndGlyphs">CNNM4</text>
<text x="981.5" y="403.5" font-size="6.2" fill="#777" font-weight="bold" text-anchor="start">Other Mg<tspan font-size="4.5" dy="-3">2+</tspan></text>
<text x="981.5" y="411.5" font-size="6.2" fill="#777" font-weight="bold" text-anchor="start">extruders</text>
<path d="M1044.5 406.5L1050 417.5H1039Z" fill="#222"/><rect x="1043.5" y="417" width="2" height="4.5" fill="#222"/><path d="M1053.75 406.5L1059.25 417.5H1048.25Z" fill="#222"/><rect x="1052.75" y="417" width="2" height="4.5" fill="#222"/>
<text x="1060.3" y="421.75" font-size="10" fill="#222" font-weight="bold" text-anchor="start">Mg<tspan font-size="6.5" dy="-4">2+</tspan></text>
<circle cx="1082" cy="358" r="1.7" fill="#6d97b0" stroke="#1d4563" stroke-width="1.2"/>
<circle cx="1092" cy="364" r="1.7" fill="#6d97b0" stroke="#1d4563" stroke-width="1.2"/>
<circle cx="1075" cy="375" r="1.7" fill="#6d97b0" stroke="#1d4563" stroke-width="1.2"/>
<circle cx="1105" cy="371" r="1.7" fill="#6d97b0" stroke="#1d4563" stroke-width="1.2"/>
<circle cx="1113" cy="371" r="1.7" fill="#6d97b0" stroke="#1d4563" stroke-width="1.2"/>
<circle cx="1085" cy="377" r="1.7" fill="#6d97b0" stroke="#1d4563" stroke-width="1.2"/>
<circle cx="1010" cy="421.5" r="1.7" fill="#6d97b0" stroke="#1d4563" stroke-width="1.2"/>
<circle cx="1022" cy="428" r="1.7" fill="#6d97b0" stroke="#1d4563" stroke-width="1.2"/>
<circle cx="1030" cy="424" r="1.7" fill="#6d97b0" stroke="#1d4563" stroke-width="1.2"/>
<circle cx="1014" cy="436" r="1.7" fill="#6d97b0" stroke="#1d4563" stroke-width="1.2"/>
<circle cx="1026" cy="438" r="1.7" fill="#6d97b0" stroke="#1d4563" stroke-width="1.2"/>
<circle cx="1038" cy="435" r="1.7" fill="#6d97b0" stroke="#1d4563" stroke-width="1.2"/>
<circle cx="1085" cy="420" r="1.7" fill="#6d97b0" stroke="#1d4563" stroke-width="1.2"/>
<circle cx="1098" cy="426" r="1.7" fill="#6d97b0" stroke="#1d4563" stroke-width="1.2"/>
<circle cx="1105" cy="422" r="1.7" fill="#6d97b0" stroke="#1d4563" stroke-width="1.2"/>
<circle cx="1089" cy="435" r="1.7" fill="#6d97b0" stroke="#1d4563" stroke-width="1.2"/>
<circle cx="1101" cy="436" r="1.7" fill="#6d97b0" stroke="#1d4563" stroke-width="1.2"/>
<circle cx="1113" cy="434" r="1.7" fill="#6d97b0" stroke="#1d4563" stroke-width="1.2"/>
<path d="M980.5 450L1020.5 491.3" stroke="#333" stroke-width="1.1" stroke-dasharray="2 2"/>
<path d="M1148 450L1039 493" stroke="#333" stroke-width="1.1" stroke-dasharray="2 2"/>
<path d="M1018.75 489.25C1021.75 488.42 1030.12 487.12 1036 486.5C1041.88 485.88 1050 484.54 1054 485.5C1058 486.46 1058.5 489.75 1060 492.25C1061.5 494.75 1062.38 498.5 1063 500.5C1063.62 502.5 1062.62 503.25 1063.75 504.25C1064.88 505.25 1067.75 504.5 1069.75 506.5C1071.75 508.5 1074.25 513.38 1075.75 516.25C1077.25 519.12 1078.62 520.88 1078.75 523.75C1078.88 526.62 1078.38 529.75 1076.5 533.5C1074.62 537.25 1069.88 543.25 1067.5 546.25C1065.12 549.25 1065.38 550.62 1062.25 551.5C1059.12 552.38 1051.62 552.12 1048.75 551.5C1045.88 550.88 1046.25 547.62 1045 547.75C1043.75 547.88 1044.5 551.62 1041.25 552.25C1038 552.88 1029.5 553.12 1025.5 551.5C1021.5 549.88 1019.88 546.25 1017.25 542.5C1014.62 538.75 1011 532.12 1009.75 529C1008.5 525.88 1009.38 526.38 1009.75 523.75C1010.12 521.12 1010.88 515.62 1012 513.25C1013.12 510.88 1015.82 511.62 1016.5 509.5C1017.18 507.38 1015.85 503.5 1016.1 500.5C1016.35 497.5 1017.56 493.38 1018 491.5C1018.44 489.62 1015.75 490.08 1018.75 489.25Z" fill="#7E4A4A"/><circle cx="1042.75" cy="529.4" r="12.4" fill="#5A1F1F"/>
<ellipse cx="1031.08" cy="500.91" rx="3.89" ry="2.05" transform="rotate(-40 1031.08 500.91)" fill="none" stroke="#6A3838" stroke-width="0.7"/><ellipse cx="1048.9" cy="498.48" rx="3.89" ry="2.05" transform="rotate(20 1048.9 498.48)" fill="none" stroke="#6A3838" stroke-width="0.7"/><ellipse cx="1043.23" cy="509.01" rx="3.89" ry="2.05" transform="rotate(10 1043.23 509.01)" fill="none" stroke="#6A3838" stroke-width="0.7"/><ellipse cx="1025.41" cy="520.35" rx="3.89" ry="2.05" transform="rotate(-70 1025.41 520.35)" fill="none" stroke="#6A3838" stroke-width="0.7"/><ellipse cx="1065.91" cy="518.73" rx="3.89" ry="2.05" transform="rotate(60 1065.91 518.73)" fill="none" stroke="#6A3838" stroke-width="0.7"/><ellipse cx="1061.86" cy="534.12" rx="3.89" ry="2.05" transform="rotate(-60 1061.86 534.12)" fill="none" stroke="#6A3838" stroke-width="0.7"/>
<rect x="1020.25" y="491.5" width="18.35" height="16.9" fill="none" stroke="#222" stroke-width="1"/>
<text x="1020.3" y="568.7" font-size="12.5" fill="#222" font-weight="bold" text-anchor="start" textLength="21.75" lengthAdjust="spacingAndGlyphs">DILI</text>
<text x="928.75" y="587.2" font-size="13" fill="#222" font-weight="bold" text-anchor="start" textLength="112.5" lengthAdjust="spacingAndGlyphs">si<tspan font-style="italic">Cnnm4</tspan> treatment</text>
<path d="M1122 482.1L1127.4 488.6H1124.3V495.3H1119.4V488.6H1116.9Z" fill="#CC3E9B" stroke="#CC3E9B" stroke-width="0.6" stroke-linejoin="round"/>
<text x="1129.2" y="494.4" font-size="13.5" fill="#CC3E9B" font-weight="bold" text-anchor="start" textLength="48" lengthAdjust="spacingAndGlyphs">CNNM4</text>
<text x="1109.8" y="508.9" font-size="12.5" fill="#CC3E9B" font-weight="bold" text-anchor="start" textLength="89.5" lengthAdjust="spacingAndGlyphs">overexpressed</text>
<path d="M1051.25 566.25V605.1" stroke="#222" stroke-width="3"/><path d="M1044.45 604.1H1058.05L1051.25 617.5Z" fill="#222"/>
<rect x="972.5" y="625.8" width="168" height="138.7" rx="1.5" fill="#fff" stroke="#3a3a3a" stroke-width="1.5"/>
<clipPath id="m3"><path d="M997.2 681.72C997.2 663.4 1027.1 652.2 1057 652.2C1090.49 652.2 1116.8 662.38 1116.8 680.19C1116.8 693.94 1107.23 703.1 1092.88 703.1C1078.53 703.1 1071.35 693.94 1057 693.94C1042.65 693.94 1036.67 701.57 1021.12 701.57C1005.57 701.57 997.2 693.94 997.2 681.72Z"/></clipPath>
<path d="M997.2 681.72C997.2 663.4 1027.1 652.2 1057 652.2C1090.49 652.2 1116.8 662.38 1116.8 680.19C1116.8 693.94 1107.23 703.1 1092.88 703.1C1078.53 703.1 1071.35 693.94 1057 693.94C1042.65 693.94 1036.67 701.57 1021.12 701.57C1005.57 701.57 997.2 693.94 997.2 681.72Z" fill="#F9D4D6" stroke="#CD6B6B" stroke-width="7" stroke-linejoin="round"/>
<path clip-path="url(#m3)" d="M1022.01 649L1026.22 687.96M1037.3 649L1039.67 687.96M1052.59 649L1053.12 687.96M1067.89 649L1066.58 687.96M1083.18 649L1080.03 687.96M1098.47 649L1093.48 687.96M1016.61 706.3L1011.46 666.19M1031.05 706.3L1027.74 666.19M1045.49 706.3L1044.03 666.19M1059.94 706.3L1060.31 666.19M1074.38 706.3L1076.6 666.19M1088.82 706.3L1092.88 666.19M1103.27 706.3L1109.16 666.19M994 673.07L1010.38 677.65M994 690.26L1010.38 686.82M1120 671.92L1111.18 676.5M1120 689.11L1111.18 684.53" stroke="#CD6B6B" stroke-width="2.4" stroke-linecap="round" fill="none"/>
<rect x="1006" y="700" width="4.62" height="14" rx="1.5" fill="#FBC76C"/><rect x="1012.38" y="700" width="4.62" height="14" rx="1.5" fill="#FBC76C"/><rect x="1009.62" y="704.2" width="3.76" height="5.6" fill="#FBC76C"/>
<rect x="1084" y="697.3" width="5.04" height="12" rx="1.5" fill="#6CC6C6"/><rect x="1090.96" y="697.3" width="5.04" height="12" rx="1.5" fill="#6CC6C6"/><rect x="1088.04" y="700.9" width="3.92" height="4.8" fill="#6CC6C6"/>
<path d="M1080.7 694.7L1097.3 715.3M1096 694.7L1080 715.3" stroke="#4d5a5a" stroke-width="3.3" stroke-opacity="0.9"/>
<path d="M1011.6 693.3V722.3" stroke="#222" stroke-width="1.6"/><path d="M1007.4 721.3H1015.8L1011.6 730Z" fill="#222"/>
<text x="1050" y="713.3" font-size="8.7" fill="#E4141B" font-weight="bold" text-anchor="start" textLength="31.3" lengthAdjust="spacingAndGlyphs">CNNM4</text>
<text x="973.5" y="716.5" font-size="6.2" fill="#777" font-weight="bold" text-anchor="start">Other Mg<tspan font-size="4.5" dy="-3">2+</tspan></text>
<text x="973.5" y="724.5" font-size="6.2" fill="#777" font-weight="bold" text-anchor="start">extruders</text>
<path d="M1032.8 662L1038.3 673H1027.3Z" fill="#222"/><rect x="1031.8" y="672.5" width="2" height="4.5" fill="#222"/><path d="M1042.05 662L1047.55 673H1036.55Z" fill="#222"/><rect x="1041.05" y="672.5" width="2" height="4.5" fill="#222"/>
<text x="1048.7" y="676.7" font-size="10" fill="#222" font-weight="bold" text-anchor="start">Mg<tspan font-size="6.5" dy="-4">2+</tspan></text>
<circle cx="1074.3" cy="671.6" r="1.7" fill="#6d97b0" stroke="#1d4563" stroke-width="1.2"/>
<circle cx="1085" cy="677.3" r="1.7" fill="#6d97b0" stroke="#1d4563" stroke-width="1.2"/>
<circle cx="1033" cy="688.7" r="1.7" fill="#6d97b0" stroke="#1d4563" stroke-width="1.2"/>
<circle cx="1052.3" cy="686" r="1.7" fill="#6d97b0" stroke="#1d4563" stroke-width="1.2"/>
<circle cx="1068" cy="688.7" r="1.7" fill="#6d97b0" stroke="#1d4563" stroke-width="1.2"/>
<circle cx="1098" cy="690.4" r="1.7" fill="#6d97b0" stroke="#1d4563" stroke-width="1.2"/>
<circle cx="1106" cy="684.4" r="1.7" fill="#6d97b0" stroke="#1d4563" stroke-width="1.2"/>
<circle cx="1002.7" cy="735" r="1.7" fill="#6d97b0" stroke="#1d4563" stroke-width="1.2"/>
<circle cx="1015" cy="741" r="1.7" fill="#6d97b0" stroke="#1d4563" stroke-width="1.2"/>
<circle cx="1023" cy="736" r="1.7" fill="#6d97b0" stroke="#1d4563" stroke-width="1.2"/>
<circle cx="1006.3" cy="749.3" r="1.7" fill="#6d97b0" stroke="#1d4563" stroke-width="1.2"/>
<circle cx="1019" cy="750.4" r="1.7" fill="#6d97b0" stroke="#1d4563" stroke-width="1.2"/>
<path d="M973.75 764.5L1013.75 805.3" stroke="#333" stroke-width="1.1" stroke-dasharray="2 2"/>
<path d="M1140 765L1035 806.3" stroke="#333" stroke-width="1.1" stroke-dasharray="2 2"/>
<path d="M1013 805.5C1014.31 803.25 1016.5 803.18 1019.75 802.5C1023 801.82 1028.38 801.58 1032.5 801.4C1036.62 801.22 1041.38 800.22 1044.5 801.4C1047.62 802.58 1049.62 806.57 1051.25 808.5C1052.88 810.43 1053.62 811.5 1054.25 813C1054.88 814.5 1054.62 816.5 1055 817.5C1055.38 818.5 1055.5 818.5 1056.5 819C1057.5 819.5 1059.25 819 1061 820.5C1062.75 822 1065.62 825.5 1067 828C1068.38 830.5 1069.12 832.88 1069.25 835.5C1069.38 838.12 1069 840.5 1067.75 843.75C1066.5 847 1063.88 852.12 1061.75 855C1059.62 857.88 1058.25 859.75 1055 861C1051.75 862.25 1045.12 862.75 1042.25 862.5C1039.38 862.25 1039.12 859.43 1037.75 859.5C1036.38 859.57 1037 862.52 1034 862.9C1031 863.27 1023.12 863.07 1019.75 861.75C1016.38 860.43 1016 858.5 1013.75 855C1011.5 851.5 1007.38 844.5 1006.25 840.75C1005.12 837 1006.38 835.12 1007 832.5C1007.62 829.88 1009 826.88 1010 825C1011 823.12 1012.68 822.75 1013 821.25C1013.32 819.75 1011.9 818.62 1011.9 816C1011.9 813.38 1011.69 807.75 1013 805.5Z" fill="#FBA68A"/><circle cx="1036.25" cy="841.5" r="11.6" fill="#D65A30"/>
<ellipse cx="1026" cy="815.25" rx="3.6" ry="1.9" transform="rotate(-40 1026 815.25)" fill="none" stroke="#EE8C70" stroke-width="0.7"/><ellipse cx="1042.5" cy="813" rx="3.6" ry="1.9" transform="rotate(20 1042.5 813)" fill="none" stroke="#EE8C70" stroke-width="0.7"/><ellipse cx="1037.25" cy="822.75" rx="3.6" ry="1.9" transform="rotate(10 1037.25 822.75)" fill="none" stroke="#EE8C70" stroke-width="0.7"/><ellipse cx="1020.75" cy="833.25" rx="3.6" ry="1.9" transform="rotate(-70 1020.75 833.25)" fill="none" stroke="#EE8C70" stroke-width="0.7"/><ellipse cx="1058.25" cy="831.75" rx="3.6" ry="1.9" transform="rotate(60 1058.25 831.75)" fill="none" stroke="#EE8C70" stroke-width="0.7"/><ellipse cx="1054.5" cy="846" rx="3.6" ry="1.9" transform="rotate(-60 1054.5 846)" fill="none" stroke="#EE8C70" stroke-width="0.7"/>
<rect x="1013.4" y="805.5" width="21" height="15.75" fill="none" stroke="#555" stroke-width="1"/>
<text x="1010.5" y="876.9" font-size="10" fill="#333" font-weight="normal" text-anchor="start" textLength="86.5" lengthAdjust="spacingAndGlyphs">Treated hepatocyte</text>
</svg>
</body></html>
